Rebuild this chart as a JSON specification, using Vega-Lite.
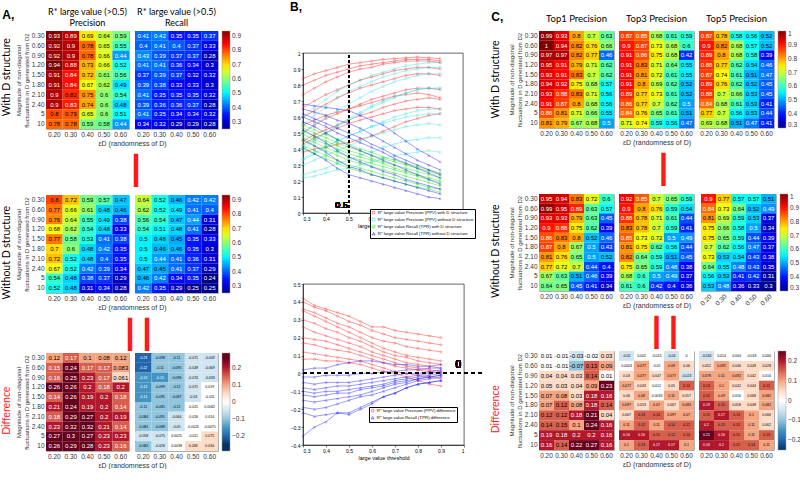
{"$schema":"https://vega.github.io/schema/vega-lite/v6.json",
"padding":{"left":2,"top":0,"right":0,"bottom":0},
"background":"white",
"config":{"font":"Liberation Sans","view":{"stroke":"#b0b0b0","strokeWidth":1},
"axis":{"ticks":false,"domain":false,"grid":false,"labelFontSize":6.5,"labelColor":"#333","titleFontSize":6.5,"titleFontWeight":"normal","titleColor":"#333","labelPadding":2,"titlePadding":2,"labelFont":"Liberation Sans","titleFont":"Liberation Sans"},
"axisX":{"labelAngle":0},
"legend":{"labelFontSize":6.5,"labelColor":"#333","gradientThickness":8,"offset":3,"labelFont":"Liberation Sans","gradientStrokeColor":"#999","gradientStrokeWidth":0.5,"labelOffset":2},
"title":{"font":"Lato","fontWeight":"normal","color":"black","fontSize":10}},
"datasets":{
"a1":[{"r":0.3,"c":0.2,"v":0.93},{"r":0.3,"c":0.3,"v":0.89},{"r":0.3,"c":0.4,"v":0.69},{"r":0.3,"c":0.5,"v":0.64},{"r":0.3,"c":0.6,"v":0.59},
{"r":0.6,"c":0.2,"v":0.92},{"r":0.6,"c":0.3,"v":0.9},{"r":0.6,"c":0.4,"v":0.78},{"r":0.6,"c":0.5,"v":0.65},{"r":0.6,"c":0.6,"v":0.55},
{"r":0.9,"c":0.2,"v":0.92},{"r":0.9,"c":0.3,"v":0.9},{"r":0.9,"c":0.4,"v":0.78},{"r":0.9,"c":0.5,"v":0.66},{"r":0.9,"c":0.6,"v":0.44},
{"r":1.2,"c":0.2,"v":0.94},{"r":1.2,"c":0.3,"v":0.88},{"r":1.2,"c":0.4,"v":0.73},{"r":1.2,"c":0.5,"v":0.66},{"r":1.2,"c":0.6,"v":0.52},
{"r":1.5,"c":0.2,"v":0.91},{"r":1.5,"c":0.3,"v":0.84},{"r":1.5,"c":0.4,"v":0.72},{"r":1.5,"c":0.5,"v":0.61},{"r":1.5,"c":0.6,"v":0.56},
{"r":1.8,"c":0.2,"v":0.91},{"r":1.8,"c":0.3,"v":0.84},{"r":1.8,"c":0.4,"v":0.67},{"r":1.8,"c":0.5,"v":0.62},{"r":1.8,"c":0.6,"v":0.49},
{"r":2.1,"c":0.2,"v":0.9},{"r":2.1,"c":0.3,"v":0.82},{"r":2.1,"c":0.4,"v":0.75},{"r":2.1,"c":0.5,"v":0.6},{"r":2.1,"c":0.6,"v":0.54},
{"r":2.4,"c":0.2,"v":0.9},{"r":2.4,"c":0.3,"v":0.83},{"r":2.4,"c":0.4,"v":0.74},{"r":2.4,"c":0.5,"v":0.6},{"r":2.4,"c":0.6,"v":0.48},
{"r":5,"c":0.2,"v":0.8},{"r":5,"c":0.3,"v":0.79},{"r":5,"c":0.4,"v":0.65},{"r":5,"c":0.5,"v":0.6},{"r":5,"c":0.6,"v":0.51},
{"r":10,"c":0.2,"v":0.78},{"r":10,"c":0.3,"v":0.78},{"r":10,"c":0.4,"v":0.59},{"r":10,"c":0.5,"v":0.58},{"r":10,"c":0.6,"v":0.44}],
"a2":[{"r":0.3,"c":0.2,"v":0.41},{"r":0.3,"c":0.3,"v":0.42},{"r":0.3,"c":0.4,"v":0.35},{"r":0.3,"c":0.5,"v":0.35},{"r":0.3,"c":0.6,"v":0.37},
{"r":0.6,"c":0.2,"v":0.4},{"r":0.6,"c":0.3,"v":0.41},{"r":0.6,"c":0.4,"v":0.4},{"r":0.6,"c":0.5,"v":0.37},{"r":0.6,"c":0.6,"v":0.33},
{"r":0.9,"c":0.2,"v":0.43},{"r":0.9,"c":0.3,"v":0.39},{"r":0.9,"c":0.4,"v":0.37},{"r":0.9,"c":0.5,"v":0.37},{"r":0.9,"c":0.6,"v":0.28},
{"r":1.2,"c":0.2,"v":0.41},{"r":1.2,"c":0.3,"v":0.41},{"r":1.2,"c":0.4,"v":0.36},{"r":1.2,"c":0.5,"v":0.34},{"r":1.2,"c":0.6,"v":0.3},
{"r":1.5,"c":0.2,"v":0.37},{"r":1.5,"c":0.3,"v":0.39},{"r":1.5,"c":0.4,"v":0.37},{"r":1.5,"c":0.5,"v":0.32},{"r":1.5,"c":0.6,"v":0.32},
{"r":1.8,"c":0.2,"v":0.39},{"r":1.8,"c":0.3,"v":0.38},{"r":1.8,"c":0.4,"v":0.33},{"r":1.8,"c":0.5,"v":0.33},{"r":1.8,"c":0.6,"v":0.3},
{"r":2.1,"c":0.2,"v":0.41},{"r":2.1,"c":0.3,"v":0.35},{"r":2.1,"c":0.4,"v":0.35},{"r":2.1,"c":0.5,"v":0.35},{"r":2.1,"c":0.6,"v":0.32},
{"r":2.4,"c":0.2,"v":0.39},{"r":2.4,"c":0.3,"v":0.36},{"r":2.4,"c":0.4,"v":0.36},{"r":2.4,"c":0.5,"v":0.37},{"r":2.4,"c":0.6,"v":0.28},
{"r":5,"c":0.2,"v":0.41},{"r":5,"c":0.3,"v":0.35},{"r":5,"c":0.4,"v":0.34},{"r":5,"c":0.5,"v":0.34},{"r":5,"c":0.6,"v":0.32},
{"r":10,"c":0.2,"v":0.34},{"r":10,"c":0.3,"v":0.32},{"r":10,"c":0.4,"v":0.29},{"r":10,"c":0.5,"v":0.29},{"r":10,"c":0.6,"v":0.28}],
"a3":[{"r":0.3,"c":0.2,"v":0.8},{"r":0.3,"c":0.3,"v":0.72},{"r":0.3,"c":0.4,"v":0.59},{"r":0.3,"c":0.5,"v":0.57},{"r":0.3,"c":0.6,"v":0.47},
{"r":0.6,"c":0.2,"v":0.77},{"r":0.6,"c":0.3,"v":0.66},{"r":0.6,"c":0.4,"v":0.61},{"r":0.6,"c":0.5,"v":0.48},{"r":0.6,"c":0.6,"v":0.46},
{"r":0.9,"c":0.2,"v":0.76},{"r":0.9,"c":0.3,"v":0.64},{"r":0.9,"c":0.4,"v":0.55},{"r":0.9,"c":0.5,"v":0.49},{"r":0.9,"c":0.6,"v":0.38},
{"r":1.2,"c":0.2,"v":0.68},{"r":1.2,"c":0.3,"v":0.62},{"r":1.2,"c":0.4,"v":0.54},{"r":1.2,"c":0.5,"v":0.48},{"r":1.2,"c":0.6,"v":0.33},
{"r":1.5,"c":0.2,"v":0.77},{"r":1.5,"c":0.3,"v":0.58},{"r":1.5,"c":0.4,"v":0.53},{"r":1.5,"c":0.5,"v":0.41},{"r":1.5,"c":0.6,"v":0.38},
{"r":1.8,"c":0.2,"v":0.7},{"r":1.8,"c":0.3,"v":0.6},{"r":1.8,"c":0.4,"v":0.48},{"r":1.8,"c":0.5,"v":0.42},{"r":1.8,"c":0.6,"v":0.35},
{"r":2.1,"c":0.2,"v":0.72},{"r":2.1,"c":0.3,"v":0.52},{"r":2.1,"c":0.4,"v":0.48},{"r":2.1,"c":0.5,"v":0.4},{"r":2.1,"c":0.6,"v":0.35},
{"r":2.4,"c":0.2,"v":0.67},{"r":2.4,"c":0.3,"v":0.52},{"r":2.4,"c":0.4,"v":0.42},{"r":2.4,"c":0.5,"v":0.39},{"r":2.4,"c":0.6,"v":0.34},
{"r":5,"c":0.2,"v":0.54},{"r":5,"c":0.3,"v":0.48},{"r":5,"c":0.4,"v":0.38},{"r":5,"c":0.5,"v":0.37},{"r":5,"c":0.6,"v":0.29},
{"r":10,"c":0.2,"v":0.52},{"r":10,"c":0.3,"v":0.48},{"r":10,"c":0.4,"v":0.31},{"r":10,"c":0.5,"v":0.34},{"r":10,"c":0.6,"v":0.28}],
"a4":[{"r":0.3,"c":0.2,"v":0.64},{"r":0.3,"c":0.3,"v":0.52},{"r":0.3,"c":0.4,"v":0.46},{"r":0.3,"c":0.5,"v":0.42},{"r":0.3,"c":0.6,"v":0.42},
{"r":0.6,"c":0.2,"v":0.62},{"r":0.6,"c":0.3,"v":0.52},{"r":0.6,"c":0.4,"v":0.49},{"r":0.6,"c":0.5,"v":0.41},{"r":0.6,"c":0.6,"v":0.4},
{"r":0.9,"c":0.2,"v":0.56},{"r":0.9,"c":0.3,"v":0.54},{"r":0.9,"c":0.4,"v":0.47},{"r":0.9,"c":0.5,"v":0.44},{"r":0.9,"c":0.6,"v":0.31},
{"r":1.2,"c":0.2,"v":0.54},{"r":1.2,"c":0.3,"v":0.51},{"r":1.2,"c":0.4,"v":0.48},{"r":1.2,"c":0.5,"v":0.41},{"r":1.2,"c":0.6,"v":0.28},
{"r":1.5,"c":0.2,"v":0.5},{"r":1.5,"c":0.3,"v":0.48},{"r":1.5,"c":0.4,"v":0.45},{"r":1.5,"c":0.5,"v":0.35},{"r":1.5,"c":0.6,"v":0.33},
{"r":1.8,"c":0.2,"v":0.5},{"r":1.8,"c":0.3,"v":0.46},{"r":1.8,"c":0.4,"v":0.46},{"r":1.8,"c":0.5,"v":0.35},{"r":1.8,"c":0.6,"v":0.3},
{"r":2.1,"c":0.2,"v":0.5},{"r":2.1,"c":0.3,"v":0.44},{"r":2.1,"c":0.4,"v":0.41},{"r":2.1,"c":0.5,"v":0.36},{"r":2.1,"c":0.6,"v":0.31},
{"r":2.4,"c":0.2,"v":0.47},{"r":2.4,"c":0.3,"v":0.45},{"r":2.4,"c":0.4,"v":0.41},{"r":2.4,"c":0.5,"v":0.37},{"r":2.4,"c":0.6,"v":0.29},
{"r":5,"c":0.2,"v":0.46},{"r":5,"c":0.3,"v":0.42},{"r":5,"c":0.4,"v":0.34},{"r":5,"c":0.5,"v":0.35},{"r":5,"c":0.6,"v":0.24},
{"r":10,"c":0.2,"v":0.42},{"r":10,"c":0.3,"v":0.35},{"r":10,"c":0.4,"v":0.29},{"r":10,"c":0.5,"v":0.25},{"r":10,"c":0.6,"v":0.25}],
"a5":[{"r":0.3,"c":0.2,"v":0.12},{"r":0.3,"c":0.3,"v":0.17},{"r":0.3,"c":0.4,"v":0.1},{"r":0.3,"c":0.5,"v":0.08},{"r":0.3,"c":0.6,"v":0.12},
{"r":0.6,"c":0.2,"v":0.15},{"r":0.6,"c":0.3,"v":0.24},{"r":0.6,"c":0.4,"v":0.17},{"r":0.6,"c":0.5,"v":0.17},{"r":0.6,"c":0.6,"v":0.083},
{"r":0.9,"c":0.2,"v":0.16},{"r":0.9,"c":0.3,"v":0.25},{"r":0.9,"c":0.4,"v":0.23},{"r":0.9,"c":0.5,"v":0.17},{"r":0.9,"c":0.6,"v":0.061},
{"r":1.2,"c":0.2,"v":0.26},{"r":1.2,"c":0.3,"v":0.26},{"r":1.2,"c":0.4,"v":0.2},{"r":1.2,"c":0.5,"v":0.18},{"r":1.2,"c":0.6,"v":0.2},
{"r":1.5,"c":0.2,"v":0.14},{"r":1.5,"c":0.3,"v":0.26},{"r":1.5,"c":0.4,"v":0.19},{"r":1.5,"c":0.5,"v":0.2},{"r":1.5,"c":0.6,"v":0.18},
{"r":1.8,"c":0.2,"v":0.21},{"r":1.8,"c":0.3,"v":0.24},{"r":1.8,"c":0.4,"v":0.19},{"r":1.8,"c":0.5,"v":0.2},{"r":1.8,"c":0.6,"v":0.14},
{"r":2.1,"c":0.2,"v":0.18},{"r":2.1,"c":0.3,"v":0.29},{"r":2.1,"c":0.4,"v":0.27},{"r":2.1,"c":0.5,"v":0.2},{"r":2.1,"c":0.6,"v":0.19},
{"r":2.4,"c":0.2,"v":0.23},{"r":2.4,"c":0.3,"v":0.32},{"r":2.4,"c":0.4,"v":0.32},{"r":2.4,"c":0.5,"v":0.21},{"r":2.4,"c":0.6,"v":0.14},
{"r":5,"c":0.2,"v":0.27},{"r":5,"c":0.3,"v":0.3},{"r":5,"c":0.4,"v":0.27},{"r":5,"c":0.5,"v":0.23},{"r":5,"c":0.6,"v":0.23},
{"r":10,"c":0.2,"v":0.26},{"r":10,"c":0.3,"v":0.29},{"r":10,"c":0.4,"v":0.28},{"r":10,"c":0.5,"v":0.23},{"r":10,"c":0.6,"v":0.16}],
"a6":[{"r":0.3,"c":0.2,"v":-0.23},{"r":0.3,"c":0.3,"v":-0.098},{"r":0.3,"c":0.4,"v":-0.11},{"r":0.3,"c":0.5,"v":-0.071},{"r":0.3,"c":0.6,"v":-0.049},
{"r":0.6,"c":0.2,"v":-0.22},{"r":0.6,"c":0.3,"v":-0.11},{"r":0.6,"c":0.4,"v":-0.095},{"r":0.6,"c":0.5,"v":-0.049},{"r":0.6,"c":0.6,"v":-0.069},
{"r":0.9,"c":0.2,"v":-0.13},{"r":0.9,"c":0.3,"v":-0.15},{"r":0.9,"c":0.4,"v":-0.096},{"r":0.9,"c":0.5,"v":-0.074},{"r":0.9,"c":0.6,"v":-0.033},
{"r":1.2,"c":0.2,"v":-0.13},{"r":1.2,"c":0.3,"v":-0.099},{"r":1.2,"c":0.4,"v":-0.12},{"r":1.2,"c":0.5,"v":-0.071},{"r":1.2,"c":0.6,"v":0.019},
{"r":1.5,"c":0.2,"v":-0.13},{"r":1.5,"c":0.3,"v":-0.095},{"r":1.5,"c":0.4,"v":-0.087},{"r":1.5,"c":0.5,"v":-0.03},{"r":1.5,"c":0.6,"v":-0.011},
{"r":1.8,"c":0.2,"v":-0.11},{"r":1.8,"c":0.3,"v":-0.081},{"r":1.8,"c":0.4,"v":-0.12},{"r":1.8,"c":0.5,"v":-0.021},{"r":1.8,"c":0.6,"v":0.0062},
{"r":2.1,"c":0.2,"v":-0.084},{"r":2.1,"c":0.3,"v":-0.091},{"r":2.1,"c":0.4,"v":-0.064},{"r":2.1,"c":0.5,"v":-0.016},{"r":2.1,"c":0.6,"v":0.014},
{"r":2.4,"c":0.2,"v":-0.081},{"r":2.4,"c":0.3,"v":-0.088},{"r":2.4,"c":0.4,"v":-0.05},{"r":2.4,"c":0.5,"v":-0.0025},{"r":2.4,"c":0.6,"v":-0.0075},
{"r":5,"c":0.2,"v":-0.058},{"r":5,"c":0.3,"v":-0.075},{"r":5,"c":0.4,"v":0.0025},{"r":5,"c":0.5,"v":-0.011},{"r":5,"c":0.6,"v":0.075},
{"r":10,"c":0.2,"v":-0.082},{"r":10,"c":0.3,"v":-0.026},{"r":10,"c":0.4,"v":0.0038},{"r":10,"c":0.5,"v":0.038},{"r":10,"c":0.6,"v":0.034}],
"c1":[{"r":0.3,"c":0.2,"v":0.99},{"r":0.3,"c":0.3,"v":0.93},{"r":0.3,"c":0.4,"v":0.8},{"r":0.3,"c":0.5,"v":0.7},{"r":0.3,"c":0.6,"v":0.63},
{"r":0.6,"c":0.2,"v":1},{"r":0.6,"c":0.3,"v":0.94},{"r":0.6,"c":0.4,"v":0.82},{"r":0.6,"c":0.5,"v":0.76},{"r":0.6,"c":0.6,"v":0.66},
{"r":0.9,"c":0.2,"v":0.97},{"r":0.9,"c":0.3,"v":0.97},{"r":0.9,"c":0.4,"v":0.82},{"r":0.9,"c":0.5,"v":0.77},{"r":0.9,"c":0.6,"v":0.46},
{"r":1.2,"c":0.2,"v":0.95},{"r":1.2,"c":0.3,"v":0.91},{"r":1.2,"c":0.4,"v":0.79},{"r":1.2,"c":0.5,"v":0.71},{"r":1.2,"c":0.6,"v":0.62},
{"r":1.5,"c":0.2,"v":0.93},{"r":1.5,"c":0.3,"v":0.91},{"r":1.5,"c":0.4,"v":0.83},{"r":1.5,"c":0.5,"v":0.7},{"r":1.5,"c":0.6,"v":0.62},
{"r":1.8,"c":0.2,"v":0.94},{"r":1.8,"c":0.3,"v":0.92},{"r":1.8,"c":0.4,"v":0.75},{"r":1.8,"c":0.5,"v":0.68},{"r":1.8,"c":0.6,"v":0.57},
{"r":2.1,"c":0.2,"v":0.93},{"r":2.1,"c":0.3,"v":0.88},{"r":2.1,"c":0.4,"v":0.83},{"r":2.1,"c":0.5,"v":0.71},{"r":2.1,"c":0.6,"v":0.56},
{"r":2.4,"c":0.2,"v":0.91},{"r":2.4,"c":0.3,"v":0.87},{"r":2.4,"c":0.4,"v":0.8},{"r":2.4,"c":0.5,"v":0.68},{"r":2.4,"c":0.6,"v":0.56},
{"r":5,"c":0.2,"v":0.86},{"r":5,"c":0.3,"v":0.81},{"r":5,"c":0.4,"v":0.71},{"r":5,"c":0.5,"v":0.66},{"r":5,"c":0.6,"v":0.55},
{"r":10,"c":0.2,"v":0.81},{"r":10,"c":0.3,"v":0.79},{"r":10,"c":0.4,"v":0.67},{"r":10,"c":0.5,"v":0.68},{"r":10,"c":0.6,"v":0.5}],
"c2":[{"r":0.3,"c":0.2,"v":0.87},{"r":0.3,"c":0.3,"v":0.85},{"r":0.3,"c":0.4,"v":0.68},{"r":0.3,"c":0.5,"v":0.61},{"r":0.3,"c":0.6,"v":0.59},
{"r":0.6,"c":0.2,"v":0.9},{"r":0.6,"c":0.3,"v":0.87},{"r":0.6,"c":0.4,"v":0.73},{"r":0.6,"c":0.5,"v":0.68},{"r":0.6,"c":0.6,"v":0.6},
{"r":0.9,"c":0.2,"v":0.91},{"r":0.9,"c":0.3,"v":0.86},{"r":0.9,"c":0.4,"v":0.75},{"r":0.9,"c":0.5,"v":0.68},{"r":0.9,"c":0.6,"v":0.42},
{"r":1.2,"c":0.2,"v":0.91},{"r":1.2,"c":0.3,"v":0.83},{"r":1.2,"c":0.4,"v":0.71},{"r":1.2,"c":0.5,"v":0.64},{"r":1.2,"c":0.6,"v":0.55},
{"r":1.5,"c":0.2,"v":0.91},{"r":1.5,"c":0.3,"v":0.81},{"r":1.5,"c":0.4,"v":0.72},{"r":1.5,"c":0.5,"v":0.61},{"r":1.5,"c":0.6,"v":0.55},
{"r":1.8,"c":0.2,"v":0.91},{"r":1.8,"c":0.3,"v":0.8},{"r":1.8,"c":0.4,"v":0.69},{"r":1.8,"c":0.5,"v":0.62},{"r":1.8,"c":0.6,"v":0.52},
{"r":2.1,"c":0.2,"v":0.89},{"r":2.1,"c":0.3,"v":0.77},{"r":2.1,"c":0.4,"v":0.73},{"r":2.1,"c":0.5,"v":0.61},{"r":2.1,"c":0.6,"v":0.52},
{"r":2.4,"c":0.2,"v":0.86},{"r":2.4,"c":0.3,"v":0.77},{"r":2.4,"c":0.4,"v":0.7},{"r":2.4,"c":0.5,"v":0.62},{"r":2.4,"c":0.6,"v":0.5},
{"r":5,"c":0.2,"v":0.84},{"r":5,"c":0.3,"v":0.76},{"r":5,"c":0.4,"v":0.65},{"r":5,"c":0.5,"v":0.61},{"r":5,"c":0.6,"v":0.51},
{"r":10,"c":0.2,"v":0.71},{"r":10,"c":0.3,"v":0.74},{"r":10,"c":0.4,"v":0.59},{"r":10,"c":0.5,"v":0.56},{"r":10,"c":0.6,"v":0.47}],
"c3":[{"r":0.3,"c":0.2,"v":0.87},{"r":0.3,"c":0.3,"v":0.78},{"r":0.3,"c":0.4,"v":0.58},{"r":0.3,"c":0.5,"v":0.56},{"r":0.3,"c":0.6,"v":0.52},
{"r":0.6,"c":0.2,"v":0.9},{"r":0.6,"c":0.3,"v":0.82},{"r":0.6,"c":0.4,"v":0.68},{"r":0.6,"c":0.5,"v":0.57},{"r":0.6,"c":0.6,"v":0.52},
{"r":0.9,"c":0.2,"v":0.89},{"r":0.9,"c":0.3,"v":0.8},{"r":0.9,"c":0.4,"v":0.68},{"r":0.9,"c":0.5,"v":0.58},{"r":0.9,"c":0.6,"v":0.39},
{"r":1.2,"c":0.2,"v":0.88},{"r":1.2,"c":0.3,"v":0.77},{"r":1.2,"c":0.4,"v":0.62},{"r":1.2,"c":0.5,"v":0.54},{"r":1.2,"c":0.6,"v":0.46},
{"r":1.5,"c":0.2,"v":0.87},{"r":1.5,"c":0.3,"v":0.74},{"r":1.5,"c":0.4,"v":0.61},{"r":1.5,"c":0.5,"v":0.51},{"r":1.5,"c":0.6,"v":0.47},
{"r":1.8,"c":0.2,"v":0.89},{"r":1.8,"c":0.3,"v":0.76},{"r":1.8,"c":0.4,"v":0.62},{"r":1.8,"c":0.5,"v":0.52},{"r":1.8,"c":0.6,"v":0.45},
{"r":2.1,"c":0.2,"v":0.88},{"r":2.1,"c":0.3,"v":0.7},{"r":2.1,"c":0.4,"v":0.66},{"r":2.1,"c":0.5,"v":0.53},{"r":2.1,"c":0.6,"v":0.45},
{"r":2.4,"c":0.2,"v":0.84},{"r":2.4,"c":0.3,"v":0.68},{"r":2.4,"c":0.4,"v":0.61},{"r":2.4,"c":0.5,"v":0.53},{"r":2.4,"c":0.6,"v":0.41},
{"r":5,"c":0.2,"v":0.77},{"r":5,"c":0.3,"v":0.7},{"r":5,"c":0.4,"v":0.56},{"r":5,"c":0.5,"v":0.53},{"r":5,"c":0.6,"v":0.44},
{"r":10,"c":0.2,"v":0.69},{"r":10,"c":0.3,"v":0.68},{"r":10,"c":0.4,"v":0.51},{"r":10,"c":0.5,"v":0.47},{"r":10,"c":0.6,"v":0.41}],
"c4":[{"r":0.3,"c":0.2,"v":0.95},{"r":0.3,"c":0.3,"v":0.94},{"r":0.3,"c":0.4,"v":0.83},{"r":0.3,"c":0.5,"v":0.72},{"r":0.3,"c":0.6,"v":0.6},
{"r":0.6,"c":0.2,"v":0.99},{"r":0.6,"c":0.3,"v":0.95},{"r":0.6,"c":0.4,"v":0.89},{"r":0.6,"c":0.5,"v":0.63},{"r":0.6,"c":0.6,"v":0.57},
{"r":0.9,"c":0.2,"v":0.93},{"r":0.9,"c":0.3,"v":0.93},{"r":0.9,"c":0.4,"v":0.79},{"r":0.9,"c":0.5,"v":0.63},{"r":0.9,"c":0.6,"v":0.45},
{"r":1.2,"c":0.2,"v":0.9},{"r":1.2,"c":0.3,"v":0.88},{"r":1.2,"c":0.4,"v":0.75},{"r":1.2,"c":0.5,"v":0.62},{"r":1.2,"c":0.6,"v":0.39},
{"r":1.5,"c":0.2,"v":0.86},{"r":1.5,"c":0.3,"v":0.83},{"r":1.5,"c":0.4,"v":0.8},{"r":1.5,"c":0.5,"v":0.52},{"r":1.5,"c":0.6,"v":0.46},
{"r":1.8,"c":0.2,"v":0.87},{"r":1.8,"c":0.3,"v":0.8},{"r":1.8,"c":0.4,"v":0.67},{"r":1.8,"c":0.5,"v":0.5},{"r":1.8,"c":0.6,"v":0.43},
{"r":2.1,"c":0.2,"v":0.81},{"r":2.1,"c":0.3,"v":0.76},{"r":2.1,"c":0.4,"v":0.65},{"r":2.1,"c":0.5,"v":0.5},{"r":2.1,"c":0.6,"v":0.52},
{"r":2.4,"c":0.2,"v":0.77},{"r":2.4,"c":0.3,"v":0.72},{"r":2.4,"c":0.4,"v":0.7},{"r":2.4,"c":0.5,"v":0.44},{"r":2.4,"c":0.6,"v":0.4},
{"r":5,"c":0.2,"v":0.67},{"r":5,"c":0.3,"v":0.63},{"r":5,"c":0.4,"v":0.51},{"r":5,"c":0.5,"v":0.46},{"r":5,"c":0.6,"v":0.39},
{"r":10,"c":0.2,"v":0.64},{"r":10,"c":0.3,"v":0.65},{"r":10,"c":0.4,"v":0.45},{"r":10,"c":0.5,"v":0.41},{"r":10,"c":0.6,"v":0.34}],
"c5":[{"r":0.3,"c":0.2,"v":0.92},{"r":0.3,"c":0.3,"v":0.85},{"r":0.3,"c":0.4,"v":0.7},{"r":0.3,"c":0.5,"v":0.65},{"r":0.3,"c":0.6,"v":0.59},
{"r":0.6,"c":0.2,"v":0.9},{"r":0.6,"c":0.3,"v":0.8},{"r":0.6,"c":0.4,"v":0.76},{"r":0.6,"c":0.5,"v":0.59},{"r":0.6,"c":0.6,"v":0.54},
{"r":0.9,"c":0.2,"v":0.88},{"r":0.9,"c":0.3,"v":0.78},{"r":0.9,"c":0.4,"v":0.71},{"r":0.9,"c":0.5,"v":0.61},{"r":0.9,"c":0.6,"v":0.44},
{"r":1.2,"c":0.2,"v":0.83},{"r":1.2,"c":0.3,"v":0.78},{"r":1.2,"c":0.4,"v":0.7},{"r":1.2,"c":0.5,"v":0.59},{"r":1.2,"c":0.6,"v":0.41},
{"r":1.5,"c":0.2,"v":0.85},{"r":1.5,"c":0.3,"v":0.73},{"r":1.5,"c":0.4,"v":0.72},{"r":1.5,"c":0.5,"v":0.5},{"r":1.5,"c":0.6,"v":0.49},
{"r":1.8,"c":0.2,"v":0.81},{"r":1.8,"c":0.3,"v":0.75},{"r":1.8,"c":0.4,"v":0.62},{"r":1.8,"c":0.5,"v":0.56},{"r":1.8,"c":0.6,"v":0.44},
{"r":2.1,"c":0.2,"v":0.82},{"r":2.1,"c":0.3,"v":0.64},{"r":2.1,"c":0.4,"v":0.59},{"r":2.1,"c":0.5,"v":0.51},{"r":2.1,"c":0.6,"v":0.45},
{"r":2.4,"c":0.2,"v":0.75},{"r":2.4,"c":0.3,"v":0.65},{"r":2.4,"c":0.4,"v":0.59},{"r":2.4,"c":0.5,"v":0.48},{"r":2.4,"c":0.6,"v":0.38},
{"r":5,"c":0.2,"v":0.68},{"r":5,"c":0.3,"v":0.6},{"r":5,"c":0.4,"v":0.5},{"r":5,"c":0.5,"v":0.49},{"r":5,"c":0.6,"v":0.37},
{"r":10,"c":0.2,"v":0.61},{"r":10,"c":0.3,"v":0.6},{"r":10,"c":0.4,"v":0.42},{"r":10,"c":0.5,"v":0.4},{"r":10,"c":0.6,"v":0.36}],
"c6":[{"r":0.3,"c":0.2,"v":0.9},{"r":0.3,"c":0.3,"v":0.77},{"r":0.3,"c":0.4,"v":0.57},{"r":0.3,"c":0.5,"v":0.57},{"r":0.3,"c":0.6,"v":0.51},
{"r":0.6,"c":0.2,"v":0.84},{"r":0.6,"c":0.3,"v":0.73},{"r":0.6,"c":0.4,"v":0.64},{"r":0.6,"c":0.5,"v":0.52},{"r":0.6,"c":0.6,"v":0.49},
{"r":0.9,"c":0.2,"v":0.81},{"r":0.9,"c":0.3,"v":0.69},{"r":0.9,"c":0.4,"v":0.59},{"r":0.9,"c":0.5,"v":0.53},{"r":0.9,"c":0.6,"v":0.37},
{"r":1.2,"c":0.2,"v":0.75},{"r":1.2,"c":0.3,"v":0.66},{"r":1.2,"c":0.4,"v":0.58},{"r":1.2,"c":0.5,"v":0.5},{"r":1.2,"c":0.6,"v":0.34},
{"r":1.5,"c":0.2,"v":0.75},{"r":1.5,"c":0.3,"v":0.65},{"r":1.5,"c":0.4,"v":0.59},{"r":1.5,"c":0.5,"v":0.44},{"r":1.5,"c":0.6,"v":0.39},
{"r":1.8,"c":0.2,"v":0.7},{"r":1.8,"c":0.3,"v":0.62},{"r":1.8,"c":0.4,"v":0.56},{"r":1.8,"c":0.5,"v":0.47},{"r":1.8,"c":0.6,"v":0.37},
{"r":2.1,"c":0.2,"v":0.73},{"r":2.1,"c":0.3,"v":0.53},{"r":2.1,"c":0.4,"v":0.54},{"r":2.1,"c":0.5,"v":0.43},{"r":2.1,"c":0.6,"v":0.38},
{"r":2.4,"c":0.2,"v":0.64},{"r":2.4,"c":0.3,"v":0.55},{"r":2.4,"c":0.4,"v":0.48},{"r":2.4,"c":0.5,"v":0.43},{"r":2.4,"c":0.6,"v":0.35},
{"r":5,"c":0.2,"v":0.56},{"r":5,"c":0.3,"v":0.53},{"r":5,"c":0.4,"v":0.41},{"r":5,"c":0.5,"v":0.42},{"r":5,"c":0.6,"v":0.31},
{"r":10,"c":0.2,"v":0.53},{"r":10,"c":0.3,"v":0.48},{"r":10,"c":0.4,"v":0.36},{"r":10,"c":0.5,"v":0.33},{"r":10,"c":0.6,"v":0.3}],
"c7":[{"r":0.3,"c":0.2,"v":0.01},{"r":0.3,"c":0.3,"v":-0.01},{"r":0.3,"c":0.4,"v":-0.03},{"r":0.3,"c":0.5,"v":-0.02},{"r":0.3,"c":0.6,"v":0.03},
{"r":0.6,"c":0.2,"v":0.01},{"r":0.6,"c":0.3,"v":-0.01},{"r":0.6,"c":0.4,"v":-0.07},{"r":0.6,"c":0.5,"v":0.13},{"r":0.6,"c":0.6,"v":0.09},
{"r":0.9,"c":0.2,"v":0.04},{"r":0.9,"c":0.3,"v":0.04},{"r":0.9,"c":0.4,"v":0.03},{"r":0.9,"c":0.5,"v":0.14},{"r":0.9,"c":0.6,"v":0.01},
{"r":1.2,"c":0.2,"v":0.05},{"r":1.2,"c":0.3,"v":0.03},{"r":1.2,"c":0.4,"v":0.04},{"r":1.2,"c":0.5,"v":0.09},{"r":1.2,"c":0.6,"v":0.23},
{"r":1.5,"c":0.2,"v":0.07},{"r":1.5,"c":0.3,"v":0.08},{"r":1.5,"c":0.4,"v":0.03},{"r":1.5,"c":0.5,"v":0.18},{"r":1.5,"c":0.6,"v":0.16},
{"r":1.8,"c":0.2,"v":0.07},{"r":1.8,"c":0.3,"v":0.12},{"r":1.8,"c":0.4,"v":0.08},{"r":1.8,"c":0.5,"v":0.18},{"r":1.8,"c":0.6,"v":0.14},
{"r":2.1,"c":0.2,"v":0.12},{"r":2.1,"c":0.3,"v":0.12},{"r":2.1,"c":0.4,"v":0.18},{"r":2.1,"c":0.5,"v":0.21},{"r":2.1,"c":0.6,"v":0.04},
{"r":2.4,"c":0.2,"v":0.14},{"r":2.4,"c":0.3,"v":0.15},{"r":2.4,"c":0.4,"v":0.1},{"r":2.4,"c":0.5,"v":0.24},{"r":2.4,"c":0.6,"v":0.16},
{"r":5,"c":0.2,"v":0.19},{"r":5,"c":0.3,"v":0.18},{"r":5,"c":0.4,"v":0.2},{"r":5,"c":0.5,"v":0.2},{"r":5,"c":0.6,"v":0.16},
{"r":10,"c":0.2,"v":0.16},{"r":10,"c":0.3,"v":0.14},{"r":10,"c":0.4,"v":0.22},{"r":10,"c":0.5,"v":0.27},{"r":10,"c":0.6,"v":0.16}],
"c8":[{"r":0.3,"c":0.2,"v":-0.05},{"r":0.3,"c":0.3,"v":0.002},{"r":0.3,"c":0.4,"v":-0.013},{"r":0.3,"c":0.5,"v":-0.04},{"r":0.3,"c":0.6,"v":0},
{"r":0.6,"c":0.2,"v":0.0003},{"r":0.6,"c":0.3,"v":0.077},{"r":0.6,"c":0.4,"v":-0.02},{"r":0.6,"c":0.5,"v":0.09},{"r":0.6,"c":0.6,"v":0.06},
{"r":0.9,"c":0.2,"v":0.03},{"r":0.9,"c":0.3,"v":0.077},{"r":0.9,"c":0.4,"v":0.047},{"r":0.9,"c":0.5,"v":0.077},{"r":0.9,"c":0.6,"v":-0.023},
{"r":1.2,"c":0.2,"v":0.077},{"r":1.2,"c":0.3,"v":0.043},{"r":1.2,"c":0.4,"v":0.012},{"r":1.2,"c":0.5,"v":0.05},{"r":1.2,"c":0.6,"v":0.14},
{"r":1.5,"c":0.2,"v":0.06},{"r":1.5,"c":0.3,"v":0.08},{"r":1.5,"c":0.4,"v":-0.0033},{"r":1.5,"c":0.5,"v":0.11},{"r":1.5,"c":0.6,"v":0.057},
{"r":1.8,"c":0.2,"v":0.097},{"r":1.8,"c":0.3,"v":0.053},{"r":1.8,"c":0.4,"v":0.07},{"r":1.8,"c":0.5,"v":0.067},{"r":1.8,"c":0.6,"v":0.083},
{"r":2.1,"c":0.2,"v":0.067},{"r":2.1,"c":0.3,"v":0.13},{"r":2.1,"c":0.4,"v":0.14},{"r":2.1,"c":0.5,"v":0.097},{"r":2.1,"c":0.6,"v":0.07},
{"r":2.4,"c":0.2,"v":0.11},{"r":2.4,"c":0.3,"v":0.12},{"r":2.4,"c":0.4,"v":0.11},{"r":2.4,"c":0.5,"v":0.14},{"r":2.4,"c":0.6,"v":0.12},
{"r":5,"c":0.2,"v":0.16},{"r":5,"c":0.3,"v":0.16},{"r":5,"c":0.4,"v":0.15},{"r":5,"c":0.5,"v":0.12},{"r":5,"c":0.6,"v":0.14},
{"r":10,"c":0.2,"v":0.1},{"r":10,"c":0.3,"v":0.13},{"r":10,"c":0.4,"v":0.17},{"r":10,"c":0.5,"v":0.17},{"r":10,"c":0.6,"v":0.1}],
"c9":[{"r":0.3,"c":0.2,"v":-0.034},{"r":0.3,"c":0.3,"v":0.014},{"r":0.3,"c":0.4,"v":0.004},{"r":0.3,"c":0.5,"v":-0.018},{"r":0.3,"c":0.6,"v":0.006},
{"r":0.6,"c":0.2,"v":0.052},{"r":0.6,"c":0.3,"v":0.092},{"r":0.6,"c":0.4,"v":0.046},{"r":0.6,"c":0.5,"v":0.048},{"r":0.6,"c":0.6,"v":0.028},
{"r":0.9,"c":0.2,"v":0.078},{"r":0.9,"c":0.3,"v":0.11},{"r":0.9,"c":0.4,"v":0.092},{"r":0.9,"c":0.5,"v":0.042},{"r":0.9,"c":0.6,"v":0.016},
{"r":1.2,"c":0.2,"v":0.13},{"r":1.2,"c":0.3,"v":0.1},{"r":1.2,"c":0.4,"v":0.042},{"r":1.2,"c":0.5,"v":0.044},{"r":1.2,"c":0.6,"v":0.12},
{"r":1.5,"c":0.2,"v":0.12},{"r":1.5,"c":0.3,"v":0.09},{"r":1.5,"c":0.4,"v":0.016},{"r":1.5,"c":0.5,"v":0.068},{"r":1.5,"c":0.6,"v":0.082},
{"r":1.8,"c":0.2,"v":0.19},{"r":1.8,"c":0.3,"v":0.15},{"r":1.8,"c":0.4,"v":0.058},{"r":1.8,"c":0.5,"v":0.048},{"r":1.8,"c":0.6,"v":0.082},
{"r":2.1,"c":0.2,"v":0.15},{"r":2.1,"c":0.3,"v":0.17},{"r":2.1,"c":0.4,"v":0.13},{"r":2.1,"c":0.5,"v":0.1},{"r":2.1,"c":0.6,"v":0.066},
{"r":2.4,"c":0.2,"v":0.2},{"r":2.4,"c":0.3,"v":0.15},{"r":2.4,"c":0.4,"v":0.13},{"r":2.4,"c":0.5,"v":0.11},{"r":2.4,"c":0.6,"v":0.062},
{"r":5,"c":0.2,"v":0.21},{"r":5,"c":0.3,"v":0.16},{"r":5,"c":0.4,"v":0.15},{"r":5,"c":0.5,"v":0.11},{"r":5,"c":0.6,"v":0.13},
{"r":10,"c":0.2,"v":0.16},{"r":10,"c":0.3,"v":0.2},{"r":10,"c":0.4,"v":0.15},{"r":10,"c":0.5,"v":0.14},{"r":10,"c":0.6,"v":0.11}],
"b1":[
{"g":"a","i":1,"x":0.3,"y":0.84},{"g":"a","i":1,"x":0.35,"y":0.87},{"g":"a","i":1,"x":0.4,"y":0.89},{"g":"a","i":1,"x":0.45,"y":0.91},{"g":"a","i":1,"x":0.5,"y":0.93},{"g":"a","i":1,"x":0.55,"y":0.94},{"g":"a","i":1,"x":0.6,"y":0.95},{"g":"a","i":1,"x":0.65,"y":0.96},{"g":"a","i":1,"x":0.7,"y":0.965},{"g":"a","i":1,"x":0.75,"y":0.97},{"g":"a","i":1,"x":0.8,"y":0.975},{"g":"a","i":1,"x":0.85,"y":0.97},{"g":"a","i":1,"x":0.9,"y":0.965},
{"g":"a","i":2,"x":0.3,"y":0.74},{"g":"a","i":2,"x":0.35,"y":0.78},{"g":"a","i":2,"x":0.4,"y":0.82},{"g":"a","i":2,"x":0.45,"y":0.85},{"g":"a","i":2,"x":0.5,"y":0.88},{"g":"a","i":2,"x":0.55,"y":0.9},{"g":"a","i":2,"x":0.6,"y":0.91},{"g":"a","i":2,"x":0.65,"y":0.93},{"g":"a","i":2,"x":0.7,"y":0.94},{"g":"a","i":2,"x":0.75,"y":0.95},{"g":"a","i":2,"x":0.8,"y":0.95},{"g":"a","i":2,"x":0.85,"y":0.95},{"g":"a","i":2,"x":0.9,"y":0.94},
{"g":"a","i":3,"x":0.3,"y":0.6},{"g":"a","i":3,"x":0.35,"y":0.64},{"g":"a","i":3,"x":0.4,"y":0.68},{"g":"a","i":3,"x":0.45,"y":0.72},{"g":"a","i":3,"x":0.5,"y":0.75},{"g":"a","i":3,"x":0.55,"y":0.78},{"g":"a","i":3,"x":0.6,"y":0.8},{"g":"a","i":3,"x":0.65,"y":0.82},{"g":"a","i":3,"x":0.7,"y":0.84},{"g":"a","i":3,"x":0.75,"y":0.86},{"g":"a","i":3,"x":0.8,"y":0.87},{"g":"a","i":3,"x":0.85,"y":0.87},{"g":"a","i":3,"x":0.9,"y":0.86},
{"g":"a","i":4,"x":0.3,"y":0.5},{"g":"a","i":4,"x":0.35,"y":0.55},{"g":"a","i":4,"x":0.4,"y":0.59},{"g":"a","i":4,"x":0.45,"y":0.62},{"g":"a","i":4,"x":0.5,"y":0.65},{"g":"a","i":4,"x":0.55,"y":0.68},{"g":"a","i":4,"x":0.6,"y":0.71},{"g":"a","i":4,"x":0.65,"y":0.73},{"g":"a","i":4,"x":0.7,"y":0.75},{"g":"a","i":4,"x":0.75,"y":0.77},{"g":"a","i":4,"x":0.8,"y":0.78},{"g":"a","i":4,"x":0.85,"y":0.78},{"g":"a","i":4,"x":0.9,"y":0.77},
{"g":"a","i":5,"x":0.3,"y":0.55},{"g":"a","i":5,"x":0.35,"y":0.58},{"g":"a","i":5,"x":0.4,"y":0.61},{"g":"a","i":5,"x":0.45,"y":0.63},{"g":"a","i":5,"x":0.5,"y":0.65},{"g":"a","i":5,"x":0.55,"y":0.67},{"g":"a","i":5,"x":0.6,"y":0.69},{"g":"a","i":5,"x":0.65,"y":0.71},{"g":"a","i":5,"x":0.7,"y":0.73},{"g":"a","i":5,"x":0.75,"y":0.74},{"g":"a","i":5,"x":0.8,"y":0.75},{"g":"a","i":5,"x":0.85,"y":0.74},{"g":"a","i":5,"x":0.9,"y":0.72},
{"g":"a","i":6,"x":0.3,"y":0.45},{"g":"a","i":6,"x":0.35,"y":0.49},{"g":"a","i":6,"x":0.4,"y":0.52},{"g":"a","i":6,"x":0.45,"y":0.55},{"g":"a","i":6,"x":0.5,"y":0.58},{"g":"a","i":6,"x":0.55,"y":0.61},{"g":"a","i":6,"x":0.6,"y":0.63},{"g":"a","i":6,"x":0.65,"y":0.66},{"g":"a","i":6,"x":0.7,"y":0.68},{"g":"a","i":6,"x":0.75,"y":0.7},{"g":"a","i":6,"x":0.8,"y":0.71},{"g":"a","i":6,"x":0.85,"y":0.72},{"g":"a","i":6,"x":0.9,"y":0.71},
{"g":"a","i":7,"x":0.3,"y":0.43},{"g":"a","i":7,"x":0.35,"y":0.47},{"g":"a","i":7,"x":0.4,"y":0.5},{"g":"a","i":7,"x":0.45,"y":0.53},{"g":"a","i":7,"x":0.5,"y":0.56},{"g":"a","i":7,"x":0.55,"y":0.58},{"g":"a","i":7,"x":0.6,"y":0.6},{"g":"a","i":7,"x":0.65,"y":0.62},{"g":"a","i":7,"x":0.7,"y":0.64},{"g":"a","i":7,"x":0.75,"y":0.65},{"g":"a","i":7,"x":0.8,"y":0.66},{"g":"a","i":7,"x":0.85,"y":0.66},{"g":"a","i":7,"x":0.9,"y":0.65},
{"g":"a","i":8,"x":0.3,"y":0.38},{"g":"a","i":8,"x":0.35,"y":0.4},{"g":"a","i":8,"x":0.4,"y":0.41},{"g":"a","i":8,"x":0.45,"y":0.43},{"g":"a","i":8,"x":0.5,"y":0.44},{"g":"a","i":8,"x":0.55,"y":0.46},{"g":"a","i":8,"x":0.6,"y":0.48},{"g":"a","i":8,"x":0.65,"y":0.51},{"g":"a","i":8,"x":0.7,"y":0.54},{"g":"a","i":8,"x":0.75,"y":0.57},{"g":"a","i":8,"x":0.8,"y":0.59},{"g":"a","i":8,"x":0.85,"y":0.61},{"g":"a","i":8,"x":0.9,"y":0.62},
{"g":"a","i":9,"x":0.3,"y":0.8},{"g":"a","i":9,"x":0.35,"y":0.83},{"g":"a","i":9,"x":0.4,"y":0.86},{"g":"a","i":9,"x":0.45,"y":0.88},{"g":"a","i":9,"x":0.5,"y":0.9},{"g":"a","i":9,"x":0.55,"y":0.92},{"g":"a","i":9,"x":0.6,"y":0.93},{"g":"a","i":9,"x":0.65,"y":0.94},{"g":"a","i":9,"x":0.7,"y":0.95},{"g":"a","i":9,"x":0.75,"y":0.96},{"g":"a","i":9,"x":0.8,"y":0.96},{"g":"a","i":9,"x":0.85,"y":0.96},{"g":"a","i":9,"x":0.9,"y":0.95},
{"g":"a","i":10,"x":0.3,"y":0.66},{"g":"a","i":10,"x":0.35,"y":0.7},{"g":"a","i":10,"x":0.4,"y":0.74},{"g":"a","i":10,"x":0.45,"y":0.77},{"g":"a","i":10,"x":0.5,"y":0.8},{"g":"a","i":10,"x":0.55,"y":0.83},{"g":"a","i":10,"x":0.6,"y":0.85},{"g":"a","i":10,"x":0.65,"y":0.87},{"g":"a","i":10,"x":0.7,"y":0.89},{"g":"a","i":10,"x":0.75,"y":0.9},{"g":"a","i":10,"x":0.8,"y":0.91},{"g":"a","i":10,"x":0.85,"y":0.91},{"g":"a","i":10,"x":0.9,"y":0.9},
{"g":"b","i":1,"x":0.3,"y":0.6},{"g":"b","i":1,"x":0.35,"y":0.66},{"g":"b","i":1,"x":0.4,"y":0.71},{"g":"b","i":1,"x":0.45,"y":0.76},{"g":"b","i":1,"x":0.5,"y":0.8},{"g":"b","i":1,"x":0.55,"y":0.83},{"g":"b","i":1,"x":0.6,"y":0.86},{"g":"b","i":1,"x":0.65,"y":0.88},{"g":"b","i":1,"x":0.7,"y":0.9},{"g":"b","i":1,"x":0.75,"y":0.92},{"g":"b","i":1,"x":0.8,"y":0.93},{"g":"b","i":1,"x":0.85,"y":0.94},{"g":"b","i":1,"x":0.9,"y":0.94},
{"g":"b","i":2,"x":0.3,"y":0.55},{"g":"b","i":2,"x":0.35,"y":0.61},{"g":"b","i":2,"x":0.4,"y":0.66},{"g":"b","i":2,"x":0.45,"y":0.72},{"g":"b","i":2,"x":0.5,"y":0.76},{"g":"b","i":2,"x":0.55,"y":0.79},{"g":"b","i":2,"x":0.6,"y":0.82},{"g":"b","i":2,"x":0.65,"y":0.85},{"g":"b","i":2,"x":0.7,"y":0.87},{"g":"b","i":2,"x":0.75,"y":0.89},{"g":"b","i":2,"x":0.8,"y":0.9},{"g":"b","i":2,"x":0.85,"y":0.91},{"g":"b","i":2,"x":0.9,"y":0.91},
{"g":"b","i":3,"x":0.3,"y":0.42},{"g":"b","i":3,"x":0.35,"y":0.46},{"g":"b","i":3,"x":0.4,"y":0.5},{"g":"b","i":3,"x":0.45,"y":0.54},{"g":"b","i":3,"x":0.5,"y":0.58},{"g":"b","i":3,"x":0.55,"y":0.62},{"g":"b","i":3,"x":0.6,"y":0.66},{"g":"b","i":3,"x":0.65,"y":0.69},{"g":"b","i":3,"x":0.7,"y":0.72},{"g":"b","i":3,"x":0.75,"y":0.75},{"g":"b","i":3,"x":0.8,"y":0.77},{"g":"b","i":3,"x":0.85,"y":0.78},{"g":"b","i":3,"x":0.9,"y":0.78},
{"g":"b","i":4,"x":0.3,"y":0.4},{"g":"b","i":4,"x":0.35,"y":0.45},{"g":"b","i":4,"x":0.4,"y":0.5},{"g":"b","i":4,"x":0.45,"y":0.55},{"g":"b","i":4,"x":0.5,"y":0.59},{"g":"b","i":4,"x":0.55,"y":0.63},{"g":"b","i":4,"x":0.6,"y":0.67},{"g":"b","i":4,"x":0.65,"y":0.7},{"g":"b","i":4,"x":0.7,"y":0.73},{"g":"b","i":4,"x":0.75,"y":0.75},{"g":"b","i":4,"x":0.8,"y":0.77},{"g":"b","i":4,"x":0.85,"y":0.78},{"g":"b","i":4,"x":0.9,"y":0.78},
{"g":"b","i":5,"x":0.3,"y":0.33},{"g":"b","i":5,"x":0.35,"y":0.37},{"g":"b","i":5,"x":0.4,"y":0.41},{"g":"b","i":5,"x":0.45,"y":0.45},{"g":"b","i":5,"x":0.5,"y":0.48},{"g":"b","i":5,"x":0.55,"y":0.51},{"g":"b","i":5,"x":0.6,"y":0.54},{"g":"b","i":5,"x":0.65,"y":0.57},{"g":"b","i":5,"x":0.7,"y":0.6},{"g":"b","i":5,"x":0.75,"y":0.62},{"g":"b","i":5,"x":0.8,"y":0.64},{"g":"b","i":5,"x":0.85,"y":0.65},{"g":"b","i":5,"x":0.9,"y":0.65},
{"g":"b","i":6,"x":0.3,"y":0.34},{"g":"b","i":6,"x":0.35,"y":0.38},{"g":"b","i":6,"x":0.4,"y":0.42},{"g":"b","i":6,"x":0.45,"y":0.45},{"g":"b","i":6,"x":0.5,"y":0.48},{"g":"b","i":6,"x":0.55,"y":0.51},{"g":"b","i":6,"x":0.6,"y":0.54},{"g":"b","i":6,"x":0.65,"y":0.56},{"g":"b","i":6,"x":0.7,"y":0.58},{"g":"b","i":6,"x":0.75,"y":0.6},{"g":"b","i":6,"x":0.8,"y":0.61},{"g":"b","i":6,"x":0.85,"y":0.62},{"g":"b","i":6,"x":0.9,"y":0.62},
{"g":"b","i":7,"x":0.3,"y":0.24},{"g":"b","i":7,"x":0.35,"y":0.26},{"g":"b","i":7,"x":0.4,"y":0.28},{"g":"b","i":7,"x":0.45,"y":0.31},{"g":"b","i":7,"x":0.5,"y":0.33},{"g":"b","i":7,"x":0.55,"y":0.36},{"g":"b","i":7,"x":0.6,"y":0.38},{"g":"b","i":7,"x":0.65,"y":0.41},{"g":"b","i":7,"x":0.7,"y":0.43},{"g":"b","i":7,"x":0.75,"y":0.45},{"g":"b","i":7,"x":0.8,"y":0.46},{"g":"b","i":7,"x":0.85,"y":0.47},{"g":"b","i":7,"x":0.9,"y":0.47},
{"g":"b","i":8,"x":0.3,"y":0.22},{"g":"b","i":8,"x":0.35,"y":0.23},{"g":"b","i":8,"x":0.4,"y":0.25},{"g":"b","i":8,"x":0.45,"y":0.27},{"g":"b","i":8,"x":0.5,"y":0.28},{"g":"b","i":8,"x":0.55,"y":0.3},{"g":"b","i":8,"x":0.6,"y":0.32},{"g":"b","i":8,"x":0.65,"y":0.34},{"g":"b","i":8,"x":0.7,"y":0.36},{"g":"b","i":8,"x":0.75,"y":0.37},{"g":"b","i":8,"x":0.8,"y":0.38},{"g":"b","i":8,"x":0.85,"y":0.39},{"g":"b","i":8,"x":0.9,"y":0.38},
{"g":"b","i":9,"x":0.3,"y":0.3},{"g":"b","i":9,"x":0.35,"y":0.33},{"g":"b","i":9,"x":0.4,"y":0.36},{"g":"b","i":9,"x":0.45,"y":0.39},{"g":"b","i":9,"x":0.5,"y":0.42},{"g":"b","i":9,"x":0.55,"y":0.45},{"g":"b","i":9,"x":0.6,"y":0.48},{"g":"b","i":9,"x":0.65,"y":0.5},{"g":"b","i":9,"x":0.7,"y":0.52},{"g":"b","i":9,"x":0.75,"y":0.54},{"g":"b","i":9,"x":0.8,"y":0.55},{"g":"b","i":9,"x":0.85,"y":0.56},{"g":"b","i":9,"x":0.9,"y":0.55},
{"g":"b","i":10,"x":0.3,"y":0.5},{"g":"b","i":10,"x":0.35,"y":0.55},{"g":"b","i":10,"x":0.4,"y":0.6},{"g":"b","i":10,"x":0.45,"y":0.64},{"g":"b","i":10,"x":0.5,"y":0.68},{"g":"b","i":10,"x":0.55,"y":0.72},{"g":"b","i":10,"x":0.6,"y":0.76},{"g":"b","i":10,"x":0.65,"y":0.79},{"g":"b","i":10,"x":0.7,"y":0.82},{"g":"b","i":10,"x":0.75,"y":0.84},{"g":"b","i":10,"x":0.8,"y":0.86},{"g":"b","i":10,"x":0.85,"y":0.87},{"g":"b","i":10,"x":0.9,"y":0.87},
{"g":"c","i":1,"x":0.3,"y":0.55},{"g":"c","i":1,"x":0.35,"y":0.52},{"g":"c","i":1,"x":0.4,"y":0.49},{"g":"c","i":1,"x":0.45,"y":0.46},{"g":"c","i":1,"x":0.5,"y":0.43},{"g":"c","i":1,"x":0.55,"y":0.4},{"g":"c","i":1,"x":0.6,"y":0.38},{"g":"c","i":1,"x":0.65,"y":0.35},{"g":"c","i":1,"x":0.7,"y":0.33},{"g":"c","i":1,"x":0.75,"y":0.31},{"g":"c","i":1,"x":0.8,"y":0.29},{"g":"c","i":1,"x":0.85,"y":0.27},{"g":"c","i":1,"x":0.9,"y":0.25},
{"g":"c","i":2,"x":0.3,"y":0.53},{"g":"c","i":2,"x":0.35,"y":0.5},{"g":"c","i":2,"x":0.4,"y":0.47},{"g":"c","i":2,"x":0.45,"y":0.44},{"g":"c","i":2,"x":0.5,"y":0.41},{"g":"c","i":2,"x":0.55,"y":0.39},{"g":"c","i":2,"x":0.6,"y":0.36},{"g":"c","i":2,"x":0.65,"y":0.34},{"g":"c","i":2,"x":0.7,"y":0.32},{"g":"c","i":2,"x":0.75,"y":0.3},{"g":"c","i":2,"x":0.8,"y":0.28},{"g":"c","i":2,"x":0.85,"y":0.26},{"g":"c","i":2,"x":0.9,"y":0.24},
{"g":"c","i":3,"x":0.3,"y":0.51},{"g":"c","i":3,"x":0.35,"y":0.48},{"g":"c","i":3,"x":0.4,"y":0.45},{"g":"c","i":3,"x":0.45,"y":0.42},{"g":"c","i":3,"x":0.5,"y":0.39},{"g":"c","i":3,"x":0.55,"y":0.37},{"g":"c","i":3,"x":0.6,"y":0.34},{"g":"c","i":3,"x":0.65,"y":0.32},{"g":"c","i":3,"x":0.7,"y":0.3},{"g":"c","i":3,"x":0.75,"y":0.28},{"g":"c","i":3,"x":0.8,"y":0.26},{"g":"c","i":3,"x":0.85,"y":0.24},{"g":"c","i":3,"x":0.9,"y":0.22},
{"g":"c","i":4,"x":0.3,"y":0.49},{"g":"c","i":4,"x":0.35,"y":0.46},{"g":"c","i":4,"x":0.4,"y":0.43},{"g":"c","i":4,"x":0.45,"y":0.4},{"g":"c","i":4,"x":0.5,"y":0.37},{"g":"c","i":4,"x":0.55,"y":0.35},{"g":"c","i":4,"x":0.6,"y":0.33},{"g":"c","i":4,"x":0.65,"y":0.31},{"g":"c","i":4,"x":0.7,"y":0.28},{"g":"c","i":4,"x":0.75,"y":0.26},{"g":"c","i":4,"x":0.8,"y":0.24},{"g":"c","i":4,"x":0.85,"y":0.22},{"g":"c","i":4,"x":0.9,"y":0.2},
{"g":"c","i":5,"x":0.3,"y":0.47},{"g":"c","i":5,"x":0.35,"y":0.44},{"g":"c","i":5,"x":0.4,"y":0.41},{"g":"c","i":5,"x":0.45,"y":0.38},{"g":"c","i":5,"x":0.5,"y":0.35},{"g":"c","i":5,"x":0.55,"y":0.33},{"g":"c","i":5,"x":0.6,"y":0.31},{"g":"c","i":5,"x":0.65,"y":0.29},{"g":"c","i":5,"x":0.7,"y":0.27},{"g":"c","i":5,"x":0.75,"y":0.25},{"g":"c","i":5,"x":0.8,"y":0.23},{"g":"c","i":5,"x":0.85,"y":0.21},{"g":"c","i":5,"x":0.9,"y":0.19},
{"g":"c","i":6,"x":0.3,"y":0.45},{"g":"c","i":6,"x":0.35,"y":0.42},{"g":"c","i":6,"x":0.4,"y":0.39},{"g":"c","i":6,"x":0.45,"y":0.36},{"g":"c","i":6,"x":0.5,"y":0.33},{"g":"c","i":6,"x":0.55,"y":0.31},{"g":"c","i":6,"x":0.6,"y":0.29},{"g":"c","i":6,"x":0.65,"y":0.27},{"g":"c","i":6,"x":0.7,"y":0.25},{"g":"c","i":6,"x":0.75,"y":0.23},{"g":"c","i":6,"x":0.8,"y":0.21},{"g":"c","i":6,"x":0.85,"y":0.19},{"g":"c","i":6,"x":0.9,"y":0.17},
{"g":"c","i":7,"x":0.3,"y":0.42},{"g":"c","i":7,"x":0.35,"y":0.39},{"g":"c","i":7,"x":0.4,"y":0.36},{"g":"c","i":7,"x":0.45,"y":0.33},{"g":"c","i":7,"x":0.5,"y":0.3},{"g":"c","i":7,"x":0.55,"y":0.28},{"g":"c","i":7,"x":0.6,"y":0.26},{"g":"c","i":7,"x":0.65,"y":0.24},{"g":"c","i":7,"x":0.7,"y":0.22},{"g":"c","i":7,"x":0.75,"y":0.2},{"g":"c","i":7,"x":0.8,"y":0.18},{"g":"c","i":7,"x":0.85,"y":0.16},{"g":"c","i":7,"x":0.9,"y":0.15},
{"g":"c","i":8,"x":0.3,"y":0.4},{"g":"c","i":8,"x":0.35,"y":0.37},{"g":"c","i":8,"x":0.4,"y":0.34},{"g":"c","i":8,"x":0.45,"y":0.31},{"g":"c","i":8,"x":0.5,"y":0.28},{"g":"c","i":8,"x":0.55,"y":0.26},{"g":"c","i":8,"x":0.6,"y":0.24},{"g":"c","i":8,"x":0.65,"y":0.22},{"g":"c","i":8,"x":0.7,"y":0.2},{"g":"c","i":8,"x":0.75,"y":0.18},{"g":"c","i":8,"x":0.8,"y":0.16},{"g":"c","i":8,"x":0.85,"y":0.15},{"g":"c","i":8,"x":0.9,"y":0.13},
{"g":"d","i":1,"x":0.3,"y":0.68},{"g":"d","i":1,"x":0.35,"y":0.67},{"g":"d","i":1,"x":0.4,"y":0.66},{"g":"d","i":1,"x":0.45,"y":0.65},{"g":"d","i":1,"x":0.5,"y":0.64},{"g":"d","i":1,"x":0.55,"y":0.61},{"g":"d","i":1,"x":0.6,"y":0.58},{"g":"d","i":1,"x":0.65,"y":0.55},{"g":"d","i":1,"x":0.7,"y":0.5},{"g":"d","i":1,"x":0.75,"y":0.45},{"g":"d","i":1,"x":0.8,"y":0.4},{"g":"d","i":1,"x":0.85,"y":0.36},{"g":"d","i":1,"x":0.9,"y":0.32},
{"g":"d","i":2,"x":0.3,"y":0.65},{"g":"d","i":2,"x":0.35,"y":0.63},{"g":"d","i":2,"x":0.4,"y":0.61},{"g":"d","i":2,"x":0.45,"y":0.58},{"g":"d","i":2,"x":0.5,"y":0.56},{"g":"d","i":2,"x":0.55,"y":0.53},{"g":"d","i":2,"x":0.6,"y":0.49},{"g":"d","i":2,"x":0.65,"y":0.45},{"g":"d","i":2,"x":0.7,"y":0.41},{"g":"d","i":2,"x":0.75,"y":0.37},{"g":"d","i":2,"x":0.8,"y":0.33},{"g":"d","i":2,"x":0.85,"y":0.3},{"g":"d","i":2,"x":0.9,"y":0.27},
{"g":"d","i":3,"x":0.3,"y":0.62},{"g":"d","i":3,"x":0.35,"y":0.59},{"g":"d","i":3,"x":0.4,"y":0.56},{"g":"d","i":3,"x":0.45,"y":0.53},{"g":"d","i":3,"x":0.5,"y":0.5},{"g":"d","i":3,"x":0.55,"y":0.47},{"g":"d","i":3,"x":0.6,"y":0.43},{"g":"d","i":3,"x":0.65,"y":0.4},{"g":"d","i":3,"x":0.7,"y":0.36},{"g":"d","i":3,"x":0.75,"y":0.33},{"g":"d","i":3,"x":0.8,"y":0.3},{"g":"d","i":3,"x":0.85,"y":0.27},{"g":"d","i":3,"x":0.9,"y":0.24},
{"g":"d","i":4,"x":0.3,"y":0.6},{"g":"d","i":4,"x":0.35,"y":0.57},{"g":"d","i":4,"x":0.4,"y":0.54},{"g":"d","i":4,"x":0.45,"y":0.5},{"g":"d","i":4,"x":0.5,"y":0.47},{"g":"d","i":4,"x":0.55,"y":0.44},{"g":"d","i":4,"x":0.6,"y":0.41},{"g":"d","i":4,"x":0.65,"y":0.38},{"g":"d","i":4,"x":0.7,"y":0.34},{"g":"d","i":4,"x":0.75,"y":0.31},{"g":"d","i":4,"x":0.8,"y":0.28},{"g":"d","i":4,"x":0.85,"y":0.25},{"g":"d","i":4,"x":0.9,"y":0.22},
{"g":"d","i":5,"x":0.3,"y":0.57},{"g":"d","i":5,"x":0.35,"y":0.54},{"g":"d","i":5,"x":0.4,"y":0.5},{"g":"d","i":5,"x":0.45,"y":0.46},{"g":"d","i":5,"x":0.5,"y":0.42},{"g":"d","i":5,"x":0.55,"y":0.39},{"g":"d","i":5,"x":0.6,"y":0.36},{"g":"d","i":5,"x":0.65,"y":0.33},{"g":"d","i":5,"x":0.7,"y":0.3},{"g":"d","i":5,"x":0.75,"y":0.27},{"g":"d","i":5,"x":0.8,"y":0.24},{"g":"d","i":5,"x":0.85,"y":0.21},{"g":"d","i":5,"x":0.9,"y":0.18},
{"g":"d","i":6,"x":0.3,"y":0.52},{"g":"d","i":6,"x":0.35,"y":0.48},{"g":"d","i":6,"x":0.4,"y":0.44},{"g":"d","i":6,"x":0.45,"y":0.39},{"g":"d","i":6,"x":0.5,"y":0.35},{"g":"d","i":6,"x":0.55,"y":0.32},{"g":"d","i":6,"x":0.6,"y":0.29},{"g":"d","i":6,"x":0.65,"y":0.26},{"g":"d","i":6,"x":0.7,"y":0.24},{"g":"d","i":6,"x":0.75,"y":0.21},{"g":"d","i":6,"x":0.8,"y":0.19},{"g":"d","i":6,"x":0.85,"y":0.17},{"g":"d","i":6,"x":0.9,"y":0.15},
{"g":"d","i":7,"x":0.3,"y":0.46},{"g":"d","i":7,"x":0.35,"y":0.42},{"g":"d","i":7,"x":0.4,"y":0.38},{"g":"d","i":7,"x":0.45,"y":0.33},{"g":"d","i":7,"x":0.5,"y":0.29},{"g":"d","i":7,"x":0.55,"y":0.27},{"g":"d","i":7,"x":0.6,"y":0.24},{"g":"d","i":7,"x":0.65,"y":0.22},{"g":"d","i":7,"x":0.7,"y":0.2},{"g":"d","i":7,"x":0.75,"y":0.18},{"g":"d","i":7,"x":0.8,"y":0.16},{"g":"d","i":7,"x":0.85,"y":0.14},{"g":"d","i":7,"x":0.9,"y":0.12},
{"g":"d","i":8,"x":0.3,"y":0.41},{"g":"d","i":8,"x":0.35,"y":0.37},{"g":"d","i":8,"x":0.4,"y":0.33},{"g":"d","i":8,"x":0.45,"y":0.28},{"g":"d","i":8,"x":0.5,"y":0.24},{"g":"d","i":8,"x":0.55,"y":0.22},{"g":"d","i":8,"x":0.6,"y":0.2},{"g":"d","i":8,"x":0.65,"y":0.18},{"g":"d","i":8,"x":0.7,"y":0.16},{"g":"d","i":8,"x":0.75,"y":0.14},{"g":"d","i":8,"x":0.8,"y":0.12},{"g":"d","i":8,"x":0.85,"y":0.1},{"g":"d","i":8,"x":0.9,"y":0.09}],
"b2":[
{"g":"e","i":1,"x":0.3,"y":0.42},{"g":"e","i":1,"x":0.35,"y":0.38},{"g":"e","i":1,"x":0.4,"y":0.36},{"g":"e","i":1,"x":0.45,"y":0.34},{"g":"e","i":1,"x":0.5,"y":0.32},{"g":"e","i":1,"x":0.55,"y":0.29},{"g":"e","i":1,"x":0.6,"y":0.26},{"g":"e","i":1,"x":0.65,"y":0.26},{"g":"e","i":1,"x":0.7,"y":0.24},{"g":"e","i":1,"x":0.75,"y":0.23},{"g":"e","i":1,"x":0.8,"y":0.22},{"g":"e","i":1,"x":0.85,"y":0.21},{"g":"e","i":1,"x":0.9,"y":0.2},
{"g":"e","i":2,"x":0.3,"y":0.4},{"g":"e","i":2,"x":0.35,"y":0.37},{"g":"e","i":2,"x":0.4,"y":0.35},{"g":"e","i":2,"x":0.45,"y":0.32},{"g":"e","i":2,"x":0.5,"y":0.29},{"g":"e","i":2,"x":0.55,"y":0.27},{"g":"e","i":2,"x":0.6,"y":0.24},{"g":"e","i":2,"x":0.65,"y":0.22},{"g":"e","i":2,"x":0.7,"y":0.2},{"g":"e","i":2,"x":0.75,"y":0.19},{"g":"e","i":2,"x":0.8,"y":0.18},{"g":"e","i":2,"x":0.85,"y":0.17},{"g":"e","i":2,"x":0.9,"y":0.16},
{"g":"e","i":3,"x":0.3,"y":0.36},{"g":"e","i":3,"x":0.35,"y":0.34},{"g":"e","i":3,"x":0.4,"y":0.31},{"g":"e","i":3,"x":0.45,"y":0.28},{"g":"e","i":3,"x":0.5,"y":0.26},{"g":"e","i":3,"x":0.55,"y":0.23},{"g":"e","i":3,"x":0.6,"y":0.2},{"g":"e","i":3,"x":0.65,"y":0.18},{"g":"e","i":3,"x":0.7,"y":0.17},{"g":"e","i":3,"x":0.75,"y":0.15},{"g":"e","i":3,"x":0.8,"y":0.14},{"g":"e","i":3,"x":0.85,"y":0.13},{"g":"e","i":3,"x":0.9,"y":0.12},
{"g":"e","i":4,"x":0.3,"y":0.35},{"g":"e","i":4,"x":0.35,"y":0.32},{"g":"e","i":4,"x":0.4,"y":0.29},{"g":"e","i":4,"x":0.45,"y":0.26},{"g":"e","i":4,"x":0.5,"y":0.23},{"g":"e","i":4,"x":0.55,"y":0.2},{"g":"e","i":4,"x":0.6,"y":0.17},{"g":"e","i":4,"x":0.65,"y":0.14},{"g":"e","i":4,"x":0.7,"y":0.12},{"g":"e","i":4,"x":0.75,"y":0.1},{"g":"e","i":4,"x":0.8,"y":0.09},{"g":"e","i":4,"x":0.85,"y":0.08},{"g":"e","i":4,"x":0.9,"y":0.07},
{"g":"e","i":5,"x":0.3,"y":0.3},{"g":"e","i":5,"x":0.35,"y":0.28},{"g":"e","i":5,"x":0.4,"y":0.25},{"g":"e","i":5,"x":0.45,"y":0.23},{"g":"e","i":5,"x":0.5,"y":0.2},{"g":"e","i":5,"x":0.55,"y":0.18},{"g":"e","i":5,"x":0.6,"y":0.15},{"g":"e","i":5,"x":0.65,"y":0.12},{"g":"e","i":5,"x":0.7,"y":0.1},{"g":"e","i":5,"x":0.75,"y":0.09},{"g":"e","i":5,"x":0.8,"y":0.07},{"g":"e","i":5,"x":0.85,"y":0.06},{"g":"e","i":5,"x":0.9,"y":0.05},
{"g":"e","i":6,"x":0.3,"y":0.26},{"g":"e","i":6,"x":0.35,"y":0.23},{"g":"e","i":6,"x":0.4,"y":0.21},{"g":"e","i":6,"x":0.45,"y":0.19},{"g":"e","i":6,"x":0.5,"y":0.17},{"g":"e","i":6,"x":0.55,"y":0.15},{"g":"e","i":6,"x":0.6,"y":0.12},{"g":"e","i":6,"x":0.65,"y":0.1},{"g":"e","i":6,"x":0.7,"y":0.08},{"g":"e","i":6,"x":0.75,"y":0.06},{"g":"e","i":6,"x":0.8,"y":0.05},{"g":"e","i":6,"x":0.85,"y":0.04},{"g":"e","i":6,"x":0.9,"y":0.03},
{"g":"e","i":7,"x":0.3,"y":0.2},{"g":"e","i":7,"x":0.35,"y":0.19},{"g":"e","i":7,"x":0.4,"y":0.18},{"g":"e","i":7,"x":0.45,"y":0.16},{"g":"e","i":7,"x":0.5,"y":0.14},{"g":"e","i":7,"x":0.55,"y":0.12},{"g":"e","i":7,"x":0.6,"y":0.1},{"g":"e","i":7,"x":0.65,"y":0.08},{"g":"e","i":7,"x":0.7,"y":0.06},{"g":"e","i":7,"x":0.75,"y":0.04},{"g":"e","i":7,"x":0.8,"y":0.03},{"g":"e","i":7,"x":0.85,"y":0.02},{"g":"e","i":7,"x":0.9,"y":0.01},
{"g":"e","i":8,"x":0.3,"y":0.17},{"g":"e","i":8,"x":0.35,"y":0.16},{"g":"e","i":8,"x":0.4,"y":0.14},{"g":"e","i":8,"x":0.45,"y":0.13},{"g":"e","i":8,"x":0.5,"y":0.12},{"g":"e","i":8,"x":0.55,"y":0.1},{"g":"e","i":8,"x":0.6,"y":0.08},{"g":"e","i":8,"x":0.65,"y":0.06},{"g":"e","i":8,"x":0.7,"y":0.04},{"g":"e","i":8,"x":0.75,"y":0.03},{"g":"e","i":8,"x":0.8,"y":0.02},{"g":"e","i":8,"x":0.85,"y":0.01},{"g":"e","i":8,"x":0.9,"y":0},
{"g":"e","i":9,"x":0.3,"y":0.12},{"g":"e","i":9,"x":0.35,"y":0.11},{"g":"e","i":9,"x":0.4,"y":0.1},{"g":"e","i":9,"x":0.45,"y":0.09},{"g":"e","i":9,"x":0.5,"y":0.08},{"g":"e","i":9,"x":0.55,"y":0.07},{"g":"e","i":9,"x":0.6,"y":0.05},{"g":"e","i":9,"x":0.65,"y":0.03},{"g":"e","i":9,"x":0.7,"y":0.01},{"g":"e","i":9,"x":0.75,"y":0},{"g":"e","i":9,"x":0.8,"y":-0.01},{"g":"e","i":9,"x":0.85,"y":-0.02},{"g":"e","i":9,"x":0.9,"y":-0.03},
{"g":"e","i":10,"x":0.3,"y":0.08},{"g":"e","i":10,"x":0.35,"y":0.08},{"g":"e","i":10,"x":0.4,"y":0.07},{"g":"e","i":10,"x":0.45,"y":0.07},{"g":"e","i":10,"x":0.5,"y":0.06},{"g":"e","i":10,"x":0.55,"y":0.05},{"g":"e","i":10,"x":0.6,"y":0.03},{"g":"e","i":10,"x":0.65,"y":0.01},{"g":"e","i":10,"x":0.7,"y":0},{"g":"e","i":10,"x":0.75,"y":-0.02},{"g":"e","i":10,"x":0.8,"y":-0.04},{"g":"e","i":10,"x":0.85,"y":-0.06},{"g":"e","i":10,"x":0.9,"y":-0.07},
{"g":"f","i":1,"x":0.3,"y":-0.35},{"g":"f","i":1,"x":0.35,"y":-0.3},{"g":"f","i":1,"x":0.4,"y":-0.27},{"g":"f","i":1,"x":0.45,"y":-0.22},{"g":"f","i":1,"x":0.5,"y":-0.23},{"g":"f","i":1,"x":0.55,"y":-0.2},{"g":"f","i":1,"x":0.6,"y":-0.17},{"g":"f","i":1,"x":0.65,"y":-0.13},{"g":"f","i":1,"x":0.7,"y":-0.11},{"g":"f","i":1,"x":0.75,"y":-0.08},{"g":"f","i":1,"x":0.8,"y":-0.06},{"g":"f","i":1,"x":0.85,"y":-0.05},{"g":"f","i":1,"x":0.9,"y":-0.04},
{"g":"f","i":2,"x":0.3,"y":-0.22},{"g":"f","i":2,"x":0.35,"y":-0.24},{"g":"f","i":2,"x":0.4,"y":-0.23},{"g":"f","i":2,"x":0.45,"y":-0.22},{"g":"f","i":2,"x":0.5,"y":-0.22},{"g":"f","i":2,"x":0.55,"y":-0.19},{"g":"f","i":2,"x":0.6,"y":-0.16},{"g":"f","i":2,"x":0.65,"y":-0.13},{"g":"f","i":2,"x":0.7,"y":-0.11},{"g":"f","i":2,"x":0.75,"y":-0.08},{"g":"f","i":2,"x":0.8,"y":-0.06},{"g":"f","i":2,"x":0.85,"y":-0.05},{"g":"f","i":2,"x":0.9,"y":-0.04},
{"g":"f","i":3,"x":0.3,"y":-0.19},{"g":"f","i":3,"x":0.35,"y":-0.2},{"g":"f","i":3,"x":0.4,"y":-0.19},{"g":"f","i":3,"x":0.45,"y":-0.17},{"g":"f","i":3,"x":0.5,"y":-0.15},{"g":"f","i":3,"x":0.55,"y":-0.13},{"g":"f","i":3,"x":0.6,"y":-0.12},{"g":"f","i":3,"x":0.65,"y":-0.1},{"g":"f","i":3,"x":0.7,"y":-0.08},{"g":"f","i":3,"x":0.75,"y":-0.06},{"g":"f","i":3,"x":0.8,"y":-0.04},{"g":"f","i":3,"x":0.85,"y":-0.03},{"g":"f","i":3,"x":0.9,"y":-0.02},
{"g":"f","i":4,"x":0.3,"y":-0.15},{"g":"f","i":4,"x":0.35,"y":-0.16},{"g":"f","i":4,"x":0.4,"y":-0.15},{"g":"f","i":4,"x":0.45,"y":-0.14},{"g":"f","i":4,"x":0.5,"y":-0.13},{"g":"f","i":4,"x":0.55,"y":-0.12},{"g":"f","i":4,"x":0.6,"y":-0.1},{"g":"f","i":4,"x":0.65,"y":-0.08},{"g":"f","i":4,"x":0.7,"y":-0.06},{"g":"f","i":4,"x":0.75,"y":-0.05},{"g":"f","i":4,"x":0.8,"y":-0.03},{"g":"f","i":4,"x":0.85,"y":-0.02},{"g":"f","i":4,"x":0.9,"y":-0.01},
{"g":"f","i":5,"x":0.3,"y":-0.12},{"g":"f","i":5,"x":0.35,"y":-0.13},{"g":"f","i":5,"x":0.4,"y":-0.12},{"g":"f","i":5,"x":0.45,"y":-0.11},{"g":"f","i":5,"x":0.5,"y":-0.11},{"g":"f","i":5,"x":0.55,"y":-0.09},{"g":"f","i":5,"x":0.6,"y":-0.08},{"g":"f","i":5,"x":0.65,"y":-0.07},{"g":"f","i":5,"x":0.7,"y":-0.05},{"g":"f","i":5,"x":0.75,"y":-0.04},{"g":"f","i":5,"x":0.8,"y":-0.03},{"g":"f","i":5,"x":0.85,"y":-0.02},{"g":"f","i":5,"x":0.9,"y":-0.01},
{"g":"f","i":6,"x":0.3,"y":-0.1},{"g":"f","i":6,"x":0.35,"y":-0.11},{"g":"f","i":6,"x":0.4,"y":-0.1},{"g":"f","i":6,"x":0.45,"y":-0.1},{"g":"f","i":6,"x":0.5,"y":-0.09},{"g":"f","i":6,"x":0.55,"y":-0.08},{"g":"f","i":6,"x":0.6,"y":-0.07},{"g":"f","i":6,"x":0.65,"y":-0.06},{"g":"f","i":6,"x":0.7,"y":-0.04},{"g":"f","i":6,"x":0.75,"y":-0.03},{"g":"f","i":6,"x":0.8,"y":-0.02},{"g":"f","i":6,"x":0.85,"y":-0.01},{"g":"f","i":6,"x":0.9,"y":0},
{"g":"f","i":7,"x":0.3,"y":-0.08},{"g":"f","i":7,"x":0.35,"y":-0.09},{"g":"f","i":7,"x":0.4,"y":-0.08},{"g":"f","i":7,"x":0.45,"y":-0.07},{"g":"f","i":7,"x":0.5,"y":-0.07},{"g":"f","i":7,"x":0.55,"y":-0.06},{"g":"f","i":7,"x":0.6,"y":-0.05},{"g":"f","i":7,"x":0.65,"y":-0.04},{"g":"f","i":7,"x":0.7,"y":-0.03},{"g":"f","i":7,"x":0.75,"y":-0.02},{"g":"f","i":7,"x":0.8,"y":-0.01},{"g":"f","i":7,"x":0.85,"y":0},{"g":"f","i":7,"x":0.9,"y":0.01},
{"g":"f","i":8,"x":0.3,"y":-0.05},{"g":"f","i":8,"x":0.35,"y":-0.06},{"g":"f","i":8,"x":0.4,"y":-0.05},{"g":"f","i":8,"x":0.45,"y":-0.05},{"g":"f","i":8,"x":0.5,"y":-0.05},{"g":"f","i":8,"x":0.55,"y":-0.04},{"g":"f","i":8,"x":0.6,"y":-0.03},{"g":"f","i":8,"x":0.65,"y":-0.02},{"g":"f","i":8,"x":0.7,"y":-0.01},{"g":"f","i":8,"x":0.75,"y":0},{"g":"f","i":8,"x":0.8,"y":0},{"g":"f","i":8,"x":0.85,"y":0.01},{"g":"f","i":8,"x":0.9,"y":0.02},
{"g":"f","i":9,"x":0.3,"y":-0.02},{"g":"f","i":9,"x":0.35,"y":-0.02},{"g":"f","i":9,"x":0.4,"y":-0.01},{"g":"f","i":9,"x":0.45,"y":-0.01},{"g":"f","i":9,"x":0.5,"y":-0.01},{"g":"f","i":9,"x":0.55,"y":0},{"g":"f","i":9,"x":0.6,"y":0},{"g":"f","i":9,"x":0.65,"y":0.01},{"g":"f","i":9,"x":0.7,"y":0.01},{"g":"f","i":9,"x":0.75,"y":0.02},{"g":"f","i":9,"x":0.8,"y":0.02},{"g":"f","i":9,"x":0.85,"y":0.03},{"g":"f","i":9,"x":0.9,"y":0.03},
{"g":"f","i":10,"x":0.3,"y":0.02},{"g":"f","i":10,"x":0.35,"y":0.03},{"g":"f","i":10,"x":0.4,"y":0.03},{"g":"f","i":10,"x":0.45,"y":0.05},{"g":"f","i":10,"x":0.5,"y":0.06},{"g":"f","i":10,"x":0.55,"y":0.07},{"g":"f","i":10,"x":0.6,"y":0.07},{"g":"f","i":10,"x":0.65,"y":0.06},{"g":"f","i":10,"x":0.7,"y":0.05},{"g":"f","i":10,"x":0.75,"y":0.05},{"g":"f","i":10,"x":0.8,"y":0.04},{"g":"f","i":10,"x":0.85,"y":0.04},{"g":"f","i":10,"x":0.9,"y":0.05}]
},
"resolve":{"scale":{"color":"independent","shape":"independent"}},
"spacing":44,
"hconcat":[
{"title":{"text":"A,","anchor":"start","fontSize":12,"fontWeight":"bold","font":"Liberation Sans","offset":0,"dy":14},
"spacing":10,"resolve":{"scale":{"color":"independent"}},
"vconcat":[
{"title":{"text":"With D structure","orient":"left","anchor":"middle","fontSize":10.5,"offset":2},"spacing":6,"bounds":"flush",
"hconcat":[
{"width":83,"height":98,"data":{"name":"a1"},"title":{"text":["R* large value (>0.5)","Precision"],"fontSize":9,"lineHeight":11,"offset":3,"anchor":"middle"},
"encoding":{"x":{"field":"c","type":"ordinal","axis":{"title":"εD (randomness of D)","titleX":86,"titleFontSize":7,"labelExpr":"format(datum.value,'.2f')"}},"y":{"field":"r","type":"ordinal","axis":{"title":["Magnitude of non-diagonal","fluctuations in D generated from D2"],"titleFontSize":6,"labelExpr":"datum.value>3?''+datum.value:format(datum.value,'.2f')"}}},
"layer":[{"mark":"rect","encoding":{"color":{"field":"v","type":"quantitative","scale":{"domain":[0.25,0.336,0.507,0.678,0.849,0.935],"range":["#00008f","#0000ff","#00ffff","#ffff00","#ff0000","#800000"],"interpolate":"rgb","nice":false,"zero":false},"legend":{"title":null,"gradientLength":98,"values":[0.3,0.4,0.5,0.6,0.7,0.8,0.9],"format":"~g"}}}},
{"mark":{"type":"text","fontSize":6},"encoding":{"text":{"field":"v","type":"nominal"},"color":{"condition":{"test":"datum.v>=0.83||datum.v<0.445","value":"white"},"value":"black"}}}]},
{"width":83,"height":98,"data":{"name":"a2"},"title":{"text":["R* large value (>0.5)","Recall"],"fontSize":9,"lineHeight":11,"offset":3,"anchor":"middle"},
"encoding":{"x":{"field":"c","type":"ordinal","axis":{"title":null,"labelExpr":"format(datum.value,'.2f')"}},"y":{"field":"r","type":"ordinal","axis":null}},
"layer":[{"mark":"rect","encoding":{"color":{"field":"v","type":"quantitative","scale":{"domain":[0.25,0.336,0.507,0.678,0.849,0.935],"range":["#00008f","#0000ff","#00ffff","#ffff00","#ff0000","#800000"],"interpolate":"rgb","nice":false,"zero":false},"legend":{"title":null,"gradientLength":98,"values":[0.3,0.4,0.5,0.6,0.7,0.8,0.9],"format":"~g"}}}},
{"mark":{"type":"text","fontSize":6},"encoding":{"text":{"field":"v","type":"nominal"},"color":{"condition":{"test":"datum.v>=0.83||datum.v<0.445","value":"white"},"value":"black"}}}]}
]},
{"title":{"text":"┃","fontSize":28,"color":"#ff1a1a","anchor":"middle","font":"DejaVu Sans","offset":9,"dx":14},
"vconcat":[{"title":{"text":"Without D structure","orient":"left","anchor":"middle","fontSize":10.5,"offset":2},"spacing":6,"bounds":"flush",
"hconcat":[
{"width":83,"height":98,"data":{"name":"a3"},
"encoding":{"x":{"field":"c","type":"ordinal","axis":{"title":"εD (randomness of D)","titleX":86,"titleFontSize":7,"labelExpr":"format(datum.value,'.2f')"}},"y":{"field":"r","type":"ordinal","axis":{"title":["Magnitude of non-diagonal","fluctuations in D generated from D2"],"titleFontSize":6,"labelExpr":"datum.value>3?''+datum.value:format(datum.value,'.2f')"}}},
"layer":[{"mark":"rect","encoding":{"color":{"field":"v","type":"quantitative","scale":{"domain":[0.25,0.336,0.507,0.678,0.849,0.935],"range":["#00008f","#0000ff","#00ffff","#ffff00","#ff0000","#800000"],"interpolate":"rgb","nice":false,"zero":false},"legend":{"title":null,"gradientLength":98,"values":[0.3,0.4,0.5,0.6,0.7,0.8,0.9],"format":"~g"}}}},
{"mark":{"type":"text","fontSize":6},"encoding":{"text":{"field":"v","type":"nominal"},"color":{"condition":{"test":"datum.v>=0.83||datum.v<0.445","value":"white"},"value":"black"}}}]},
{"width":83,"height":98,"data":{"name":"a4"},
"encoding":{"x":{"field":"c","type":"ordinal","axis":{"title":null,"labelExpr":"format(datum.value,'.2f')"}},"y":{"field":"r","type":"ordinal","axis":null}},
"layer":[{"mark":"rect","encoding":{"color":{"field":"v","type":"quantitative","scale":{"domain":[0.25,0.336,0.507,0.678,0.849,0.935],"range":["#00008f","#0000ff","#00ffff","#ffff00","#ff0000","#800000"],"interpolate":"rgb","nice":false,"zero":false},"legend":{"title":null,"gradientLength":98,"values":[0.3,0.4,0.5,0.6,0.7,0.8,0.9],"format":"~g"}}}},
{"mark":{"type":"text","fontSize":6},"encoding":{"text":{"field":"v","type":"nominal"},"color":{"condition":{"test":"datum.v>=0.83||datum.v<0.445","value":"white"},"value":"black"}}}]}
]}]},
{"title":{"text":"┃┃","fontSize":28,"color":"#ff1a1a","anchor":"middle","font":"DejaVu Sans","offset":3,"dx":15},
"vconcat":[{"title":{"text":"Difference","orient":"left","anchor":"middle","fontSize":10.5,"offset":2,"color":"#ff1a1a"},"spacing":6,"bounds":"flush",
"hconcat":[
{"width":83,"height":98,"data":{"name":"a5"},
"encoding":{"x":{"field":"c","type":"ordinal","axis":{"title":"εD (randomness of D)","titleX":86,"titleFontSize":7,"labelExpr":"format(datum.value,'.2f')"}},"y":{"field":"r","type":"ordinal","axis":{"title":["Magnitude of non-diagonal","fluctuations in D generated from D2"],"titleFontSize":6,"labelExpr":"datum.value>3?''+datum.value:format(datum.value,'.2f')"}}},
"layer":[{"mark":"rect","encoding":{"color":{"field":"v","type":"quantitative","scale":{"domain":[-0.285,-0.2332,-0.2332,-0.1814,-0.1814,-0.1295,-0.1295,-0.0777,-0.0777,-0.0259,-0.0259,0.0259,0.0259,0.0777,0.0777,0.1295,0.1295,0.1814,0.1814,0.2332,0.2332,0.285],"range":["#053061","#053061","#2166ac","#2166ac","#4393c3","#4393c3","#92c5de","#92c5de","#d1e5f0","#d1e5f0","#ffffff","#ffffff","#fddbc7","#fddbc7","#f4a582","#f4a582","#d6604d","#d6604d","#b2182b","#b2182b","#67001f","#67001f"],"interpolate":"rgb","nice":false,"zero":false},"legend":{"title":null,"gradientLength":98,"values":[-0.2,-0.1,0,0.1,0.2],"format":"~g"}}}},
{"mark":{"type":"text","fontSize":6},"encoding":{"text":{"field":"v","type":"nominal"},"color":{"condition":{"test":"abs(datum.v)>=0.13","value":"white"},"value":"black"}}}]},
{"width":83,"height":98,"data":{"name":"a6"},
"encoding":{"x":{"field":"c","type":"ordinal","axis":{"title":null,"labelExpr":"format(datum.value,'.2f')"}},"y":{"field":"r","type":"ordinal","axis":null}},
"layer":[{"mark":"rect","encoding":{"color":{"field":"v","type":"quantitative","scale":{"domain":[-0.285,-0.2332,-0.2332,-0.1814,-0.1814,-0.1295,-0.1295,-0.0777,-0.0777,-0.0259,-0.0259,0.0259,0.0259,0.0777,0.0777,0.1295,0.1295,0.1814,0.1814,0.2332,0.2332,0.285],"range":["#053061","#053061","#2166ac","#2166ac","#4393c3","#4393c3","#92c5de","#92c5de","#d1e5f0","#d1e5f0","#ffffff","#ffffff","#fddbc7","#fddbc7","#f4a582","#f4a582","#d6604d","#d6604d","#b2182b","#b2182b","#67001f","#67001f"],"interpolate":"rgb","nice":false,"zero":false},"legend":{"title":null,"gradientLength":98,"values":[-0.2,-0.1,0,0.1,0.2],"format":"~g"}}}},
{"mark":{"type":"text","fontSize":3.5},"encoding":{"text":{"field":"v","type":"nominal"},"color":{"condition":{"test":"abs(datum.v)>=0.13","value":"white"},"value":"black"}}}]}
]}]}
]},
{"spacing":8,"resolve":{"scale":{"color":"independent","shape":"independent"}},
"hconcat":[
{"spacing":13,"resolve":{"scale":{"color":"independent","shape":"independent"}},
"vconcat":[
{"width":160,"height":1,"view":{"stroke":null},"title":{"text":"B,","anchor":"start","fontSize":12,"fontWeight":"bold","font":"Liberation Sans","offset":12,"dx":-13},"data":{"values":[{}]},"mark":{"type":"text"},"encoding":{"text":{"value":""}}},
{"spacing":42,"resolve":{"scale":{"color":"independent","shape":"independent"}},
"vconcat":[
{"width":160,"height":160,"view":{"stroke":"black","strokeWidth":0.6},"data":{"name":"b1"},
"encoding":{
"x":{"field":"x","type":"quantitative","scale":{"domain":[0.3,1],"nice":false,"zero":false},"axis":{"title":"large value threshold","titleFontSize":5.5,"titleColor":"black","tickCount":7,"format":"~g","labelOverlap":false,"domain":true,"domainColor":"black","domainWidth":0.6,"ticks":true,"tickSize":2,"tickColor":"black","tickWidth":0.5,"labelFontSize":5,"labelColor":"black","labelPadding":1}},
"y":{"field":"y","type":"quantitative","scale":{"domain":[0,1],"nice":false,"zero":false},"axis":{"title":null,"tickCount":10,"format":"~g","labelOverlap":false,"domain":true,"domainColor":"black","domainWidth":0.6,"ticks":true,"tickSize":2,"tickColor":"black","tickWidth":0.5,"labelFontSize":5,"labelColor":"black","labelPadding":1}}},
"layer":[
{"mark":{"type":"line","strokeWidth":0.6,"opacity":0.65},"encoding":{
"color":{"field":"g","type":"nominal","scale":{"domain":["a","b","c","d"],"range":["#ff0000","#22dddd","#00dd00","#0000ff"]},"legend":{"title":null,"orient":"none","legendX":67,"legendY":156,"fillColor":"white","strokeColor":"black","padding":1.5,"labelFontSize":4.3,"labelColor":"black","symbolSize":8,"rowPadding":0,"symbolStrokeWidth":0.8,"labelLimit":300,"labelExpr":"datum.label=='a'?'R* large value Precision (PPV) with D structure':datum.label=='b'?'R* large value Precision (PPV) without D structure':datum.label=='c'?'R* large value Recall (TPR) with D structure':'R* large value Recall (TPR) without D structure'"}},
"detail":{"field":"i"}}},
{"mark":{"type":"point","filled":false,"size":5,"strokeWidth":0.4,"opacity":0.6},"encoding":{
"color":{"field":"g","type":"nominal","scale":{"domain":["a","b","c","d"],"range":["#ff0000","#22dddd","#00dd00","#0000ff"]},"legend":{"title":null,"orient":"none","legendX":67,"legendY":156,"fillColor":"white","strokeColor":"black","padding":1.5,"labelFontSize":4.3,"labelColor":"black","symbolSize":8,"rowPadding":0,"symbolStrokeWidth":0.8,"labelLimit":300,"labelExpr":"datum.label=='a'?'R* large value Precision (PPV) with D structure':datum.label=='b'?'R* large value Precision (PPV) without D structure':datum.label=='c'?'R* large value Recall (TPR) with D structure':'R* large value Recall (TPR) without D structure'"}},
"shape":{"field":"g","type":"nominal","scale":{"domain":["a","b","c","d"],"range":["circle","square","cross","triangle-up"]},"legend":{"title":null,"orient":"none","legendX":67,"legendY":156,"fillColor":"white","strokeColor":"black","padding":1.5,"labelFontSize":4.3,"labelColor":"black","symbolSize":8,"rowPadding":0,"symbolStrokeWidth":0.8,"labelLimit":300,"labelExpr":"datum.label=='a'?'R* large value Precision (PPV) with D structure':datum.label=='b'?'R* large value Precision (PPV) without D structure':datum.label=='c'?'R* large value Recall (TPR) with D structure':'R* large value Recall (TPR) without D structure'"}}}},
{"mark":{"type":"rule","strokeDash":[3,2],"strokeWidth":1,"color":"black"},"encoding":{"x":{"datum":0.5},"y":{"datum":0},"y2":{"datum":1}}},
{"mark":{"type":"text","fontSize":9,"align":"right","baseline":"bottom","dx":-1,"font":"Liberation Sans"},"encoding":{"x":{"datum":0.5},"y":{"datum":0.02},"text":{"value":"0.5"}}}
]},
{"width":161,"height":161,"view":{"stroke":"black","strokeWidth":0.6},"data":{"name":"b2"},
"encoding":{
"x":{"field":"x","type":"quantitative","scale":{"domain":[0.3,1],"nice":false,"zero":false},"axis":{"title":"large value threshold","titleFontSize":5.5,"titleColor":"black","tickCount":7,"format":"~g","labelOverlap":false,"domain":true,"domainColor":"black","domainWidth":0.6,"ticks":true,"tickSize":2,"tickColor":"black","tickWidth":0.5,"labelFontSize":5,"labelColor":"black","labelPadding":1}},
"y":{"field":"y","type":"quantitative","scale":{"domain":[-0.4,0.5],"nice":false,"zero":false},"axis":{"title":null,"tickCount":9,"format":"~g","labelOverlap":false,"domain":true,"domainColor":"black","domainWidth":0.6,"ticks":true,"tickSize":2,"tickColor":"black","tickWidth":0.5,"labelFontSize":5,"labelColor":"black","labelPadding":1}}},
"layer":[
{"mark":{"type":"line","strokeWidth":0.6,"opacity":0.65},"encoding":{
"color":{"field":"g","type":"nominal","scale":{"domain":["e","f"],"range":["#ff0000","#0000ff"]},"legend":{"title":null,"orient":"none","legendX":66,"legendY":123,"fillColor":"white","strokeColor":"black","padding":1.5,"labelFontSize":4.3,"labelColor":"black","symbolSize":8,"rowPadding":0,"symbolStrokeWidth":0.8,"labelLimit":300,"labelExpr":"datum.label=='e'?'R* large value Precision (PPV) difference':'R* large value Recall (TPR) difference'"}},
"detail":{"field":"i"}}},
{"mark":{"type":"point","filled":false,"size":5,"strokeWidth":0.4,"opacity":0.6},"encoding":{
"color":{"field":"g","type":"nominal","scale":{"domain":["e","f"],"range":["#ff0000","#0000ff"]},"legend":{"title":null,"orient":"none","legendX":66,"legendY":123,"fillColor":"white","strokeColor":"black","padding":1.5,"labelFontSize":4.3,"labelColor":"black","symbolSize":8,"rowPadding":0,"symbolStrokeWidth":0.8,"labelLimit":300,"labelExpr":"datum.label=='e'?'R* large value Precision (PPV) difference':'R* large value Recall (TPR) difference'"}},
"shape":{"field":"g","type":"nominal","scale":{"domain":["e","f"],"range":["circle","triangle-up"]},"legend":{"title":null,"orient":"none","legendX":66,"legendY":123,"fillColor":"white","strokeColor":"black","padding":1.5,"labelFontSize":4.3,"labelColor":"black","symbolSize":8,"rowPadding":0,"symbolStrokeWidth":0.8,"labelLimit":300,"labelExpr":"datum.label=='e'?'R* large value Precision (PPV) difference':'R* large value Recall (TPR) difference'"}}}},
{"mark":{"type":"rule","strokeDash":[4,3],"strokeWidth":1.2,"color":"black","clip":false},"encoding":{"x":{"datum":0.3},"x2":{"datum":1.075},"y":{"datum":0}}},
{"mark":{"type":"text","fontSize":10,"align":"center","baseline":"bottom","font":"Liberation Sans"},"encoding":{"x":{"datum":0.975},"y":{"datum":0.02},"text":{"value":"0"}}}
]}
]}
]},
{"title":{"text":"C,","anchor":"start","fontSize":12,"fontWeight":"bold","font":"Liberation Sans","offset":0,"dy":11},
"spacing":10,"resolve":{"scale":{"color":"independent"}},
"vconcat":[
{"title":{"text":"With D structure","orient":"left","anchor":"middle","fontSize":10.5,"offset":6},"spacing":3,
"hconcat":[
{"width":75,"height":97,"data":{"name":"c1"},"title":{"text":"Top1 Precision","fontSize":9.5,"offset":8,"anchor":"middle"},
"encoding":{"x":{"field":"c","type":"ordinal","axis":{"title":null,"labelExpr":"format(datum.value,'.2f')"}},"y":{"field":"r","type":"ordinal","axis":{"title":["Magnitude of non-diagonal","fluctuations in D generated from D2"],"titleFontSize":6,"labelExpr":"datum.value>3?''+datum.value:format(datum.value,'.2f')"}}},
"layer":[{"mark":"rect","encoding":{"color":{"field":"v","type":"quantitative","scale":{"domain":[0.3,0.3875,0.5625,0.7375,0.9125,1],"range":["#00008f","#0000ff","#00ffff","#ffff00","#ff0000","#800000"],"interpolate":"rgb","nice":false,"zero":false},"legend":{"title":null,"gradientLength":97,"values":[0.3,0.4,0.5,0.6,0.7,0.8,0.9,1],"format":"~g"}}}},
{"mark":{"type":"text","fontSize":6},"encoding":{"text":{"field":"v","type":"nominal"},"color":{"condition":{"test":"datum.v>=0.84||datum.v<0.505","value":"white"},"value":"black"}}}]},
{"width":75,"height":97,"data":{"name":"c2"},"title":{"text":"Top3 Precision","fontSize":9.5,"offset":8,"anchor":"middle"},
"encoding":{"x":{"field":"c","type":"ordinal","axis":{"title":"εD (randomness of D)","titleFontSize":7,"labelExpr":"format(datum.value,'.2f')"}},"y":{"field":"r","type":"ordinal","axis":null}},
"layer":[{"mark":"rect","encoding":{"color":{"field":"v","type":"quantitative","scale":{"domain":[0.3,0.3875,0.5625,0.7375,0.9125,1],"range":["#00008f","#0000ff","#00ffff","#ffff00","#ff0000","#800000"],"interpolate":"rgb","nice":false,"zero":false},"legend":{"title":null,"gradientLength":97,"values":[0.3,0.4,0.5,0.6,0.7,0.8,0.9,1],"format":"~g"}}}},
{"mark":{"type":"text","fontSize":6},"encoding":{"text":{"field":"v","type":"nominal"},"color":{"condition":{"test":"datum.v>=0.84||datum.v<0.505","value":"white"},"value":"black"}}}]},
{"width":75,"height":97,"data":{"name":"c3"},"title":{"text":"Top5 Precision","fontSize":9.5,"offset":8,"anchor":"middle"},
"encoding":{"x":{"field":"c","type":"ordinal","axis":{"title":null,"labelExpr":"format(datum.value,'.2f')"}},"y":{"field":"r","type":"ordinal","axis":null}},
"layer":[{"mark":"rect","encoding":{"color":{"field":"v","type":"quantitative","scale":{"domain":[0.3,0.3875,0.5625,0.7375,0.9125,1],"range":["#00008f","#0000ff","#00ffff","#ffff00","#ff0000","#800000"],"interpolate":"rgb","nice":false,"zero":false},"legend":{"title":null,"gradientLength":97,"values":[0.3,0.4,0.5,0.6,0.7,0.8,0.9,1],"format":"~g"}}}},
{"mark":{"type":"text","fontSize":6},"encoding":{"text":{"field":"v","type":"nominal"},"color":{"condition":{"test":"datum.v>=0.84||datum.v<0.505","value":"white"},"value":"black"}}}]}
]},
{"title":{"text":"┃","fontSize":28,"color":"#ff1a1a","anchor":"middle","font":"DejaVu Sans","offset":9,"dx":18},
"vconcat":[{"title":{"text":"Without D structure","orient":"left","anchor":"middle","fontSize":10.5,"offset":6},"spacing":3,
"hconcat":[
{"width":75,"height":97,"data":{"name":"c4"},
"encoding":{"x":{"field":"c","type":"ordinal","axis":{"title":null,"labelExpr":"format(datum.value,'.2f')"}},"y":{"field":"r","type":"ordinal","axis":{"title":["Magnitude of non-diagonal","fluctuations in D generated from D2"],"titleFontSize":6,"labelExpr":"datum.value>3?''+datum.value:format(datum.value,'.2f')"}}},
"layer":[{"mark":"rect","encoding":{"color":{"field":"v","type":"quantitative","scale":{"domain":[0.3,0.3875,0.5625,0.7375,0.9125,1],"range":["#00008f","#0000ff","#00ffff","#ffff00","#ff0000","#800000"],"interpolate":"rgb","nice":false,"zero":false},"legend":{"title":null,"gradientLength":97,"values":[0.3,0.4,0.5,0.6,0.7,0.8,0.9,1],"format":"~g"}}}},
{"mark":{"type":"text","fontSize":6},"encoding":{"text":{"field":"v","type":"nominal"},"color":{"condition":{"test":"datum.v>=0.84||datum.v<0.505","value":"white"},"value":"black"}}}]},
{"width":75,"height":97,"data":{"name":"c5"},
"encoding":{"x":{"field":"c","type":"ordinal","axis":{"title":"εD (randomness of D)","titleFontSize":7,"labelExpr":"format(datum.value,'.2f')"}},"y":{"field":"r","type":"ordinal","axis":null}},
"layer":[{"mark":"rect","encoding":{"color":{"field":"v","type":"quantitative","scale":{"domain":[0.3,0.3875,0.5625,0.7375,0.9125,1],"range":["#00008f","#0000ff","#00ffff","#ffff00","#ff0000","#800000"],"interpolate":"rgb","nice":false,"zero":false},"legend":{"title":null,"gradientLength":97,"values":[0.3,0.4,0.5,0.6,0.7,0.8,0.9,1],"format":"~g"}}}},
{"mark":{"type":"text","fontSize":6},"encoding":{"text":{"field":"v","type":"nominal"},"color":{"condition":{"test":"datum.v>=0.84||datum.v<0.505","value":"white"},"value":"black"}}}]},
{"width":75,"height":97,"data":{"name":"c6"},
"encoding":{"x":{"field":"c","type":"ordinal","axis":{"title":null,"labelAngle":-45,"labelExpr":"format(datum.value,'.2f')"}},"y":{"field":"r","type":"ordinal","axis":null}},
"layer":[{"mark":"rect","encoding":{"color":{"field":"v","type":"quantitative","scale":{"domain":[0.3,0.3875,0.5625,0.7375,0.9125,1],"range":["#00008f","#0000ff","#00ffff","#ffff00","#ff0000","#800000"],"interpolate":"rgb","nice":false,"zero":false},"legend":{"title":null,"gradientLength":97,"values":[0.3,0.4,0.5,0.6,0.7,0.8,0.9,1],"format":"~g"}}}},
{"mark":{"type":"text","fontSize":6},"encoding":{"text":{"field":"v","type":"nominal"},"color":{"condition":{"test":"datum.v>=0.84||datum.v<0.505","value":"white"},"value":"black"}}}]}
]}]},
{"title":{"text":"┃┃","fontSize":28,"color":"#ff1a1a","anchor":"middle","font":"DejaVu Sans","offset":3,"dx":19},
"vconcat":[{"title":{"text":"Difference","orient":"left","anchor":"middle","fontSize":10.5,"offset":6,"color":"#ff1a1a"},"spacing":3,
"hconcat":[
{"width":75,"height":99,"data":{"name":"c7"},
"encoding":{"x":{"field":"c","type":"ordinal","axis":{"title":null,"labelExpr":"format(datum.value,'.2f')"}},"y":{"field":"r","type":"ordinal","axis":{"title":["Magnitude of non-diagonal","fluctuations in D generated from D2"],"titleFontSize":6,"labelExpr":"datum.value>3?''+datum.value:format(datum.value,'.2f')"}}},
"layer":[{"mark":"rect","encoding":{"color":{"field":"v","type":"quantitative","scale":{"domain":[-0.25,-0.2045,-0.2045,-0.1591,-0.1591,-0.1136,-0.1136,-0.0682,-0.0682,-0.0227,-0.0227,0.0227,0.0227,0.0682,0.0682,0.1136,0.1136,0.1591,0.1591,0.2045,0.2045,0.25],"range":["#053061","#053061","#2166ac","#2166ac","#4393c3","#4393c3","#92c5de","#92c5de","#d1e5f0","#d1e5f0","#ffffff","#ffffff","#fddbc7","#fddbc7","#f4a582","#f4a582","#d6604d","#d6604d","#b2182b","#b2182b","#67001f","#67001f"],"interpolate":"rgb","nice":false,"zero":false},"legend":{"title":null,"gradientLength":99,"values":[-0.2,-0.1,0,0.1,0.2],"format":"~g"}}}},
{"mark":{"type":"text","fontSize":6},"encoding":{"text":{"field":"v","type":"nominal"},"color":{"condition":{"test":"abs(datum.v)>=0.16","value":"white"},"value":"black"}}}]},
{"width":75,"height":99,"data":{"name":"c8"},
"encoding":{"x":{"field":"c","type":"ordinal","axis":{"title":"εD (randomness of D)","titleFontSize":7,"labelExpr":"format(datum.value,'.2f')"}},"y":{"field":"r","type":"ordinal","axis":null}},
"layer":[{"mark":"rect","encoding":{"color":{"field":"v","type":"quantitative","scale":{"domain":[-0.25,-0.2045,-0.2045,-0.1591,-0.1591,-0.1136,-0.1136,-0.0682,-0.0682,-0.0227,-0.0227,0.0227,0.0227,0.0682,0.0682,0.1136,0.1136,0.1591,0.1591,0.2045,0.2045,0.25],"range":["#053061","#053061","#2166ac","#2166ac","#4393c3","#4393c3","#92c5de","#92c5de","#d1e5f0","#d1e5f0","#ffffff","#ffffff","#fddbc7","#fddbc7","#f4a582","#f4a582","#d6604d","#d6604d","#b2182b","#b2182b","#67001f","#67001f"],"interpolate":"rgb","nice":false,"zero":false},"legend":{"title":null,"gradientLength":99,"values":[-0.2,-0.1,0,0.1,0.2],"format":"~g"}}}},
{"mark":{"type":"text","fontSize":3.5},"encoding":{"text":{"field":"v","type":"nominal"},"color":{"condition":{"test":"abs(datum.v)>=0.16","value":"white"},"value":"black"}}}]},
{"width":75,"height":99,"data":{"name":"c9"},
"encoding":{"x":{"field":"c","type":"ordinal","axis":{"title":null,"labelExpr":"format(datum.value,'.2f')"}},"y":{"field":"r","type":"ordinal","axis":null}},
"layer":[{"mark":"rect","encoding":{"color":{"field":"v","type":"quantitative","scale":{"domain":[-0.25,-0.2045,-0.2045,-0.1591,-0.1591,-0.1136,-0.1136,-0.0682,-0.0682,-0.0227,-0.0227,0.0227,0.0227,0.0682,0.0682,0.1136,0.1136,0.1591,0.1591,0.2045,0.2045,0.25],"range":["#053061","#053061","#2166ac","#2166ac","#4393c3","#4393c3","#92c5de","#92c5de","#d1e5f0","#d1e5f0","#ffffff","#ffffff","#fddbc7","#fddbc7","#f4a582","#f4a582","#d6604d","#d6604d","#b2182b","#b2182b","#67001f","#67001f"],"interpolate":"rgb","nice":false,"zero":false},"legend":{"title":null,"gradientLength":99,"values":[-0.2,-0.1,0,0.1,0.2],"format":"~g"}}}},
{"mark":{"type":"text","fontSize":3.5},"encoding":{"text":{"field":"v","type":"nominal"},"color":{"condition":{"test":"abs(datum.v)>=0.16","value":"white"},"value":"black"}}}]}
]}]}
]}
]}
]}
